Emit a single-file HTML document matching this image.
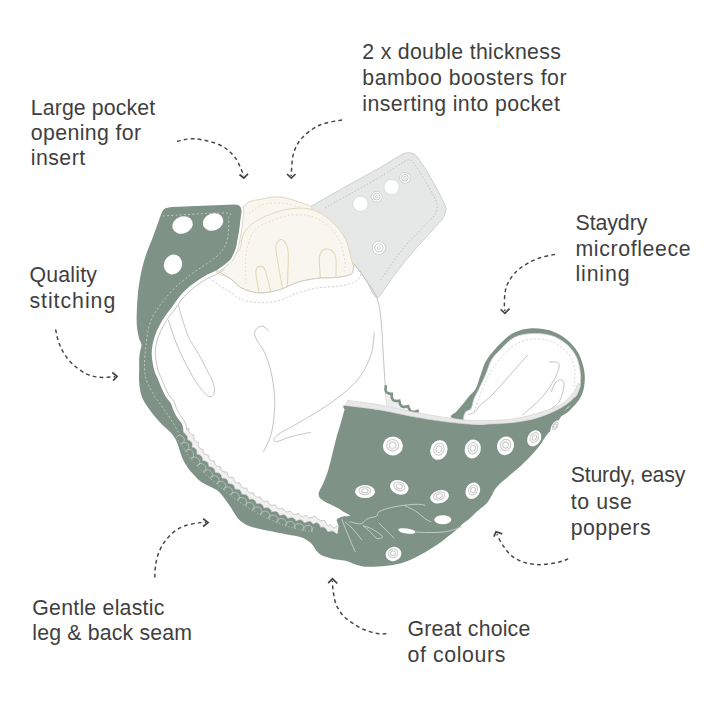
<!DOCTYPE html>
<html><head><meta charset="utf-8"><style>
html,body{margin:0;padding:0;background:#fff;width:720px;height:720px;overflow:hidden}
svg{position:absolute;left:0;top:0;display:block}
text{font-family:"Liberation Sans",sans-serif;font-size:21.3px;fill:#3f3f3f}
</style></head><body>
<svg width="720" height="720" viewBox="0 0 720 720">
<path d="M290.0,221.5 C295.0,213.3 368.9,174.2 380.0,167.6 C391.1,160.9 398.4,156.5 401.0,155.0 C403.6,153.5 404.6,153.2 405.5,153.0 C406.4,152.8 408.7,152.5 409.5,152.6 C410.3,152.7 412.8,153.3 413.5,153.6 C414.2,153.9 416.1,155.5 416.6,156.0 C417.2,156.5 418.5,158.3 419.0,159.0 C419.5,159.7 420.2,161.0 421.2,162.5 C422.2,164.0 426.9,171.3 428.6,174.2 C430.3,177.1 436.8,188.7 438.3,191.6 C439.9,194.5 443.3,201.6 444.1,203.3 C444.9,205.0 446.0,207.5 446.1,208.5 C446.2,209.5 445.5,211.9 445.1,213.0 C444.7,214.1 443.3,217.8 442.2,219.3 C441.1,220.8 436.1,226.1 434.4,228.0 C432.6,229.9 426.6,236.6 424.7,238.7 C422.8,240.8 416.9,247.2 415.0,249.4 C413.1,251.6 407.7,258.1 405.3,261.1 C402.9,264.1 393.8,275.8 391.0,279.5 C388.2,283.2 379.5,297.9 377.0,298.0 C374.5,298.1 368.3,283.4 366.0,280.0 C363.7,276.6 357.6,267.0 354.0,264.0 C350.4,261.0 336.4,254.2 330.0,250.0 C323.6,245.8 285.0,229.7 290.0,221.5Z" fill="#e6e8e7" stroke="#cdd0ce" stroke-width="1"/>
<path d="M325.0,208.0 C330.5,204.9 371.9,181.8 380.0,177.0 C388.1,172.2 403.0,162.1 406.2,160.5 C409.4,158.9 410.9,160.3 412.0,161.0 C413.1,161.7 415.7,165.5 417.0,167.4 C418.3,169.3 423.1,177.4 424.7,180.0 C426.2,182.6 431.2,191.2 432.5,193.6 C433.8,196.0 437.0,202.2 437.3,204.3 C437.6,206.4 436.3,212.7 435.4,214.4 C434.5,216.1 430.2,219.4 428.6,221.2 C427.0,222.9 420.8,229.9 418.9,231.9 C417.0,233.9 411.4,239.1 409.2,241.6 C407.0,244.1 399.4,253.3 396.5,257.2 C393.6,261.1 381.6,278.6 380.0,281.0" fill="none" stroke="#b9bdbb" stroke-width="0.9" stroke-dasharray="1.6 1.8"/>
<circle cx="360.4" cy="203.8" r="7.6" fill="#fff" stroke="#cdd0ce" stroke-width="0.6"/>
<circle cx="391.6" cy="187.1" r="7.6" fill="#fff" stroke="#cdd0ce" stroke-width="0.6"/>
<circle cx="376.7" cy="196.7" r="5.4" fill="#fff" stroke="#c6c9c7" stroke-width="0.8"/>
<circle cx="376.7" cy="196.7" r="3.3" fill="none" stroke="#b9bcba" stroke-width="0.8"/>
<circle cx="376.7" cy="196.7" r="1.4" fill="#fff" stroke="#b9bcba" stroke-width="0.6"/>
<circle cx="404.9" cy="177.8" r="5.4" fill="#fff" stroke="#c6c9c7" stroke-width="0.8"/>
<circle cx="404.9" cy="177.8" r="3.3" fill="none" stroke="#b9bcba" stroke-width="0.8"/>
<circle cx="404.9" cy="177.8" r="1.4" fill="#fff" stroke="#b9bcba" stroke-width="0.6"/>
<circle cx="378.9" cy="247.8" r="6.6" fill="#fff" stroke="#c6c9c7" stroke-width="0.8"/>
<circle cx="378.9" cy="247.8" r="4.1" fill="none" stroke="#b9bcba" stroke-width="0.8"/>
<circle cx="378.9" cy="247.8" r="1.6" fill="#fff" stroke="#b9bcba" stroke-width="0.6"/>
<path d="M236.0,235.0 C235.0,229.3 239.7,212.0 244.0,206.0 C248.3,200.0 256.0,200.5 262.0,199.0 C268.0,197.5 273.8,196.5 280.0,197.0 C286.2,197.5 293.7,200.2 299.0,202.0 C304.3,203.8 311.8,205.8 312.0,208.0 C312.2,210.2 310.3,209.7 300.0,215.0 C289.7,220.3 260.7,236.7 250.0,240.0 C239.3,243.3 237.0,240.7 236.0,235.0Z" fill="#f9f6f0" stroke="#e3d8b8" stroke-width="1"/>
<path d="M249.0,214.0 C251.2,212.5 256.8,206.8 262.0,205.0 C267.2,203.2 273.7,202.7 280.0,203.0 C286.3,203.3 296.7,206.3 300.0,207.0" fill="none" stroke="#e3d8b8" stroke-width="0.8" stroke-dasharray="2 2"/>
<path d="M216.0,270.0 C214.7,274.4 225.7,275.3 230.0,278.3 C234.3,281.3 236.8,285.6 241.7,288.0 C246.6,290.4 253.0,292.6 259.2,292.9 C265.4,293.2 272.1,291.8 278.6,290.0 C285.1,288.2 291.5,284.1 298.0,282.2 C304.5,280.2 311.0,279.1 317.5,278.3 C324.0,277.5 331.5,278.0 337.0,277.4 C342.5,276.8 347.9,275.9 350.6,274.4 C353.4,272.9 353.4,271.3 353.5,268.6 C353.6,265.9 352.4,263.1 351.0,258.0 C349.6,252.9 348.5,244.3 345.0,238.0 C341.5,231.7 335.8,224.8 330.0,220.0 C324.2,215.2 317.7,210.7 310.0,209.0 C302.3,207.3 292.7,208.2 284.0,210.0 C275.3,211.8 264.7,216.2 258.0,220.0 C251.3,223.8 247.3,227.7 244.0,233.0 C240.7,238.3 242.7,245.8 238.0,252.0 C233.3,258.2 217.3,265.6 216.0,270.0Z" fill="#f9f6f0" stroke="#e3d8b8" stroke-width="1"/>
<path d="M246.0,284.0 C246.0,279.2 245.0,263.3 246.0,255.0 C247.0,246.7 249.3,239.0 252.0,234.0 C254.7,229.0 256.3,228.0 262.0,225.0 C267.7,222.0 278.0,217.5 286.0,216.0 C294.0,214.5 303.0,214.3 310.0,216.0 C317.0,217.7 323.0,221.7 328.0,226.0 C333.0,230.3 337.2,236.0 340.0,242.0 C342.8,248.0 344.3,257.0 345.0,262.0 C345.7,267.0 344.2,270.3 344.0,272.0" fill="none" stroke="#e3d8b8" stroke-width="0.8" stroke-dasharray="2 2"/>
<path d="M282.5,289.0 C281.5,283.3 277.8,262.3 276.7,255.0 C275.6,247.7 275.3,247.6 276.0,245.0 C276.7,242.4 279.2,239.5 281.0,239.5 C282.8,239.5 285.3,242.4 286.5,245.0 C287.7,247.6 288.2,248.0 288.3,255.0 C288.4,262.0 287.5,281.7 287.4,287.0" fill="none" stroke="#e3d8b8" stroke-width="1.1"/>
<path d="M259.0,292.0 C258.5,289.2 256.4,278.9 256.0,275.0 C255.6,271.1 255.7,269.9 256.5,268.5 C257.3,267.1 259.6,266.2 261.0,266.5 C262.4,266.8 263.3,265.8 265.0,270.0 C266.7,274.2 270.0,288.3 271.0,292.0" fill="none" stroke="#e3d8b8" stroke-width="1.1"/>
<path d="M320.4,278.3 C320.2,274.9 319.1,262.6 319.4,258.0 C319.7,253.4 320.6,252.5 322.0,251.0 C323.4,249.5 326.0,248.7 328.0,249.0 C330.0,249.3 332.7,251.2 334.0,253.0 C335.3,254.8 335.7,256.1 336.0,260.0 C336.3,263.9 336.0,273.7 336.0,276.4" fill="none" stroke="#e3d8b8" stroke-width="1.1"/>
<path d="M216.0,270.0 C218.3,271.4 225.7,275.3 230.0,278.3 C234.3,281.3 236.8,285.6 241.7,288.0 C246.6,290.4 253.0,292.6 259.2,292.9 C265.4,293.2 272.1,291.8 278.6,290.0 C285.1,288.2 291.5,284.1 298.0,282.2 C304.5,280.2 311.0,279.1 317.5,278.3 C324.0,277.5 331.5,278.0 337.0,277.4 C342.5,276.8 347.9,275.9 350.6,274.4 C353.4,272.9 352.9,270.3 353.5,268.6 C354.1,266.9 353.9,264.8 354.0,264.0" fill="none" stroke="#cfcfc8" stroke-width="1"/>
<path d="M209.0,278.0 C211.2,279.5 218.5,284.7 222.0,287.0 C225.5,289.3 226.7,289.9 230.0,292.0 C233.3,294.1 236.8,297.9 241.7,299.7 C246.6,301.5 253.0,302.4 259.2,302.6 C265.4,302.8 272.1,302.3 278.6,300.7 C285.1,299.1 291.5,295.0 298.0,292.9 C304.5,290.8 310.7,289.1 317.5,288.0 C324.3,286.9 332.8,287.1 338.9,286.1 C345.0,285.1 350.8,283.8 354.4,282.2 C358.0,280.6 359.3,278.3 360.3,276.4 C361.3,274.5 360.3,271.6 360.3,270.6" fill="none" stroke="#c8c8c8" stroke-width="0.9" stroke-dasharray="2 2"/>
<path d="M354.0,264.0 C356.0,266.7 362.2,274.3 366.0,280.0 C369.8,285.7 374.5,291.3 377.0,298.0 C379.5,304.7 380.0,311.3 381.0,320.0 C382.0,328.7 382.4,340.8 383.0,350.0 C383.6,359.2 383.9,365.8 384.5,375.0 C385.1,384.2 386.3,400.0 386.7,405.0" fill="none" stroke="#c4c4c4" stroke-width="1"/>
<path d="M168.3,320.0 C169.8,324.2 173.7,337.0 177.0,345.0 C180.3,353.0 184.5,361.3 188.0,368.0 C191.5,374.7 195.2,380.8 198.0,385.0 C200.8,389.2 203.0,391.4 205.0,393.3 C207.0,395.2 208.5,396.7 210.0,396.7 C211.5,396.7 213.6,395.5 214.2,393.3 C214.8,391.1 214.5,387.2 213.3,383.3 C212.1,379.4 208.9,373.9 207.0,370.0 C205.1,366.1 203.7,363.7 201.7,360.0 C199.7,356.3 197.2,351.9 195.0,348.0 C192.8,344.1 190.5,341.7 188.3,336.7 C186.1,331.7 183.7,323.3 182.0,318.0 C180.3,312.7 178.9,307.2 178.3,305.0" fill="none" stroke="#c4c4c4" stroke-width="1"/>
<path d="M268.9,331.1 C267.8,330.2 264.4,326.2 262.2,326.0 C260.0,325.8 256.7,328.0 255.6,330.0 C254.5,332.0 254.1,334.1 255.6,337.8 C257.1,341.5 261.8,346.5 264.4,352.2 C267.0,357.9 269.4,365.2 271.1,372.2 C272.8,379.2 273.8,387.7 274.4,394.4 C274.9,401.1 274.9,405.5 274.4,412.2 C273.8,418.9 273.0,427.7 271.1,434.4 C269.2,441.1 264.6,449.2 263.3,452.2" fill="none" stroke="#c4c4c4" stroke-width="1"/>
<path d="M374.4,332.2 C373.8,335.9 373.5,347.0 371.1,354.4 C368.7,361.8 364.8,370.0 360.0,376.7 C355.2,383.4 348.9,388.8 342.2,394.4 C335.5,399.9 327.4,405.2 320.0,410.0 C312.6,414.8 304.5,419.4 297.8,423.3 C291.1,427.2 283.9,430.7 280.0,433.3 C276.1,435.9 274.9,437.5 274.4,438.9 C273.8,440.3 273.9,442.0 276.7,441.6 C279.5,441.2 285.4,438.3 291.1,436.7 C296.8,435.1 307.8,432.9 311.1,432.2" fill="none" stroke="#c4c4c4" stroke-width="1"/>
<path d="M453.6,418.5 C446.4,416.1 455.0,413.8 456.5,411.5 C458.0,409.2 460.3,407.3 462.4,404.7 C464.5,402.1 466.9,398.8 469.2,396.0 C471.5,393.2 474.1,391.8 476.0,388.2 C477.9,384.6 479.0,379.3 480.8,374.6 C482.6,369.9 483.3,365.2 486.6,360.0 C489.9,354.8 496.0,347.9 500.6,343.3 C505.2,338.7 509.0,335.1 514.2,332.6 C519.4,330.1 525.6,328.5 531.7,328.2 C537.9,327.9 545.3,328.8 551.1,330.7 C556.9,332.6 562.2,335.7 566.7,339.4 C571.2,343.1 575.4,347.8 578.3,353.0 C581.2,358.2 583.2,365.1 584.2,370.6 C585.2,376.1 584.9,381.6 584.2,386.1 C583.6,390.6 582.2,394.2 580.3,397.8 C578.3,401.4 575.4,404.6 572.5,407.5 C569.6,410.4 568.2,412.6 562.8,415.3 C557.4,418.1 550.5,422.2 540.0,424.0 C529.5,425.8 514.4,426.9 500.0,426.0 C485.6,425.1 460.9,420.9 453.6,418.5Z" fill="#7e9286"/>
<path d="M464.8,421.0 C462.4,419.2 464.2,414.6 465.3,412.5 C466.4,410.4 469.7,410.9 471.1,408.6 C472.6,406.3 472.7,402.1 474.0,398.9 C475.3,395.7 476.9,393.2 478.9,389.2 C480.8,385.1 483.6,379.5 485.7,374.6 C487.8,369.7 488.9,364.4 491.5,360.0 C494.1,355.6 497.7,352.2 501.5,348.5 C505.3,344.8 509.2,340.0 514.2,337.5 C519.2,335.0 525.6,333.9 531.7,333.6 C537.9,333.3 545.3,333.8 551.1,335.6 C556.9,337.4 562.5,340.7 566.7,344.3 C570.9,347.9 574.1,352.3 576.4,357.0 C578.7,361.7 579.7,367.6 580.3,372.5 C580.9,377.4 580.8,381.9 579.9,386.1 C579.0,390.4 577.8,393.9 575.0,398.0 C572.2,402.1 570.5,407.3 563.0,411.0 C555.5,414.7 540.5,418.0 530.0,420.0 C519.5,422.0 508.3,422.5 500.0,423.0 C491.7,423.5 485.9,423.3 480.0,423.0 C474.1,422.7 467.2,422.8 464.8,421.0Z" fill="#fff" stroke="#d6d6d6" stroke-width="0.8"/>
<path d="M474.0,412.0 C474.8,409.7 477.0,403.2 479.0,398.0 C481.0,392.8 483.7,386.0 486.0,381.0 C488.3,376.0 490.0,372.5 493.0,368.0 C496.0,363.5 500.2,358.0 504.0,354.0 C507.8,350.0 511.3,346.5 516.0,344.0 C520.7,341.5 526.3,339.5 532.0,339.0 C537.7,338.5 544.7,339.3 550.0,341.0 C555.3,342.7 560.3,345.8 564.0,349.0 C567.7,352.2 570.2,356.0 572.0,360.0 C573.8,364.0 574.7,368.5 575.0,373.0 C575.3,377.5 574.2,384.7 574.0,387.0" fill="none" stroke="#cacaca" stroke-width="0.8" stroke-dasharray="2 2"/>
<path d="M527.8,355.0 C524.8,358.3 516.0,368.3 510.0,375.0 C504.0,381.7 496.9,390.1 492.0,395.0 C487.1,399.9 483.8,401.8 480.8,404.7 C477.8,407.6 476.1,410.9 474.0,412.5 C471.9,414.1 469.2,414.1 468.2,414.4" fill="none" stroke="#c4c4c4" stroke-width="1"/>
<path d="M549.0,362.0 C550.6,362.3 557.9,361.0 558.9,363.7 C559.9,366.4 557.9,372.6 555.0,378.3 C552.1,384.0 546.9,391.6 541.4,397.8 C535.9,404.0 525.2,412.4 522.0,415.3" fill="none" stroke="#c4c4c4" stroke-width="1"/>
<path d="M551.0,392.0 C551.8,390.3 554.2,384.0 556.0,382.0 C557.8,380.0 560.7,379.3 562.0,380.0 C563.3,380.7 564.5,382.3 564.0,386.0 C563.5,389.7 561.8,397.8 559.0,402.0 C556.2,406.2 549.0,409.8 547.0,411.4" fill="none" stroke="#c4c4c4" stroke-width="1"/>
<path d="M386.0,385.3 L385.9,386.0 L385.8,386.7 L385.7,387.4 L385.6,388.0 L385.5,388.6 L385.5,389.2 L385.6,389.8 L385.6,390.3 L385.8,390.8 L386.0,391.3 L386.3,391.7 L386.6,392.1 L387.0,392.5 L387.5,392.8 L388.0,393.0 L388.6,393.3 L389.2,393.5 L389.8,393.6 L390.5,393.8 L391.1,393.9 L391.8,393.9 L391.7,394.6 L391.7,395.3 L391.7,396.0 L391.8,396.6 L391.8,397.2 L392.0,397.8 L392.1,398.4 L392.4,398.9 L392.7,399.4 L393.0,399.8 L393.4,400.1 L393.8,400.4 L394.3,400.6 L394.8,400.8 L395.4,400.9 L396.0,401.0 L396.6,401.0 L397.3,401.0 L398.0,400.9 L398.6,400.9 L399.3,400.8 L399.4,401.4 L399.6,402.1 L399.7,402.7 L399.9,403.4 L400.1,404.0 L400.4,404.5 L400.7,405.0 L401.0,405.5 L401.4,405.9 L401.8,406.2 L402.2,406.5 L402.7,406.7 L403.2,406.8 L403.8,406.9 L404.3,406.9 L404.9,406.8 L405.5,406.8 L406.2,406.6 L406.8,406.5 L407.5,406.3 L408.2,406.1 L408.4,406.8 L408.6,407.4 L408.8,408.0 L409.1,408.6 L409.4,409.2 L409.7,409.7 L410.0,410.2 L410.3,410.6 L410.7,411.0 L411.1,411.2 L411.6,411.5 L412.1,411.6 L412.6,411.7 L413.1,411.8 L413.7,411.8 L414.3,411.7 L414.9,411.6 L415.5,411.4 L416.2,411.3 L416.8,411.1 L417.5,410.9 L417.7,411.5 L418.0,412.2 L418.0,412.4 L418,413 L386.5,406 Z" fill="#ededed"/>
<path d="M386.0,385.3 L385.9,386.0 L385.8,386.7 L385.7,387.4 L385.6,388.0 L385.5,388.6 L385.5,389.2 L385.6,389.8 L385.6,390.3 L385.8,390.8 L386.0,391.3 L386.3,391.7 L386.6,392.1 L387.0,392.5 L387.5,392.8 L388.0,393.0 L388.6,393.3 L389.2,393.5 L389.8,393.6 L390.5,393.8 L391.1,393.9 L391.8,393.9 L391.7,394.6 L391.7,395.3 L391.7,396.0 L391.8,396.6 L391.8,397.2 L392.0,397.8 L392.1,398.4 L392.4,398.9 L392.7,399.4 L393.0,399.8 L393.4,400.1 L393.8,400.4 L394.3,400.6 L394.8,400.8 L395.4,400.9 L396.0,401.0 L396.6,401.0 L397.3,401.0 L398.0,400.9 L398.6,400.9 L399.3,400.8 L399.4,401.4 L399.6,402.1 L399.7,402.7 L399.9,403.4 L400.1,404.0 L400.4,404.5 L400.7,405.0 L401.0,405.5 L401.4,405.9 L401.8,406.2 L402.2,406.5 L402.7,406.7 L403.2,406.8 L403.8,406.9 L404.3,406.9 L404.9,406.8 L405.5,406.8 L406.2,406.6 L406.8,406.5 L407.5,406.3 L408.2,406.1 L408.4,406.8 L408.6,407.4 L408.8,408.0 L409.1,408.6 L409.4,409.2 L409.7,409.7 L410.0,410.2 L410.3,410.6 L410.7,411.0 L411.1,411.2 L411.6,411.5 L412.1,411.6 L412.6,411.7 L413.1,411.8 L413.7,411.8 L414.3,411.7 L414.9,411.6 L415.5,411.4 L416.2,411.3 L416.8,411.1 L417.5,410.9 L417.7,411.5 L418.0,412.2 L418.0,412.4" fill="none" stroke="#7e9286" stroke-width="2.6"/>
<path d="M234.0,204.6 C234.7,204.7 237.2,204.8 238.3,205.2 C239.4,205.6 240.1,206.2 240.6,207.3 C241.1,208.4 241.4,209.6 241.4,211.7 C241.4,213.8 240.8,216.9 240.4,220.0 C240.0,223.1 239.7,226.8 239.2,230.0 C238.7,233.2 238.1,236.1 237.5,239.2 C236.9,242.2 236.6,245.5 235.8,248.3 C235.0,251.1 233.7,253.9 232.5,256.0 C231.3,258.1 231.3,258.9 228.9,261.1 C226.5,263.3 222.0,266.8 217.8,269.4 C213.6,271.9 208.5,273.6 203.9,276.4 C199.3,279.2 194.0,282.8 190.0,286.1 C186.0,289.4 183.0,292.5 180.0,296.0 C177.0,299.5 174.9,303.0 172.0,307.0 C169.1,311.0 165.4,315.1 162.5,320.0 C159.6,324.9 156.4,331.1 154.6,336.7 C152.8,342.2 151.8,347.8 151.7,353.3 C151.6,358.9 153.2,365.8 154.2,370.0 C155.2,374.2 156.2,375.2 157.5,378.3 C158.8,381.4 160.3,385.2 161.7,388.3 C163.1,391.4 164.3,394.2 165.8,396.7 C167.3,399.2 169.6,401.1 170.8,403.3 C172.1,405.5 172.3,407.8 173.3,410.0 C174.3,412.2 175.7,415.0 176.7,416.7 C177.7,418.4 178.2,418.5 179.2,420.0 C180.2,421.5 181.9,423.6 182.6,425.6 C183.3,427.6 183.3,430.9 183.5,432.0 L183.5,432.0 L183.7,432.4 L184.0,432.9 L184.3,433.3 L184.7,433.6 L185.0,434.0 L185.4,434.3 L185.8,434.7 L186.1,435.0 L186.5,435.4 L186.7,435.8 L187.0,436.3 L187.2,436.7 L187.3,437.3 L187.4,437.8 L187.3,438.5 L187.3,439.1 L187.2,439.8 L187.7,440.0 L188.3,440.2 L188.9,440.4 L189.4,440.7 L190.0,440.9 L190.4,441.2 L190.8,441.5 L191.2,441.9 L191.5,442.3 L191.7,442.8 L191.9,443.3 L192.0,443.8 L192.0,444.4 L192.0,444.9 L192.0,445.6 L191.9,446.2 L191.8,446.8 L192.2,447.2 L192.8,447.4 L193.4,447.6 L194.0,447.9 L194.5,448.1 L195.0,448.4 L195.4,448.7 L195.7,449.1 L196.0,449.5 L196.3,449.9 L196.5,450.4 L196.6,450.9 L196.7,451.5 L196.7,452.0 L196.7,452.7 L196.7,453.3 L196.7,454.0 L196.9,454.4 L197.6,454.6 L198.2,454.7 L198.8,454.9 L199.4,455.0 L199.9,455.2 L200.4,455.5 L200.8,455.8 L201.2,456.1 L201.5,456.5 L201.8,456.9 L202.0,457.4 L202.2,457.9 L202.3,458.4 L202.4,459.0 L202.5,459.7 L202.5,460.3 L202.7,460.8 L203.4,460.9 L204.0,461.0 L204.6,461.1 L205.2,461.2 L205.7,461.4 L206.2,461.6 L206.7,461.9 L207.1,462.2 L207.4,462.5 L207.7,462.9 L208.0,463.4 L208.2,463.9 L208.3,464.5 L208.4,465.1 L208.5,465.7 L208.6,466.3 L208.7,467.0 L209.3,467.0 L210.0,467.1 L210.6,467.1 L211.2,467.2 L211.8,467.4 L212.3,467.5 L212.8,467.8 L213.2,468.0 L213.5,468.4 L213.9,468.8 L214.1,469.2 L214.4,469.7 L214.6,470.2 L214.7,470.8 L214.8,471.4 L215.0,472.0 L215.1,472.7 L215.6,472.8 L216.3,472.9 L216.9,472.9 L217.5,472.9 L218.1,473.0 L218.6,473.2 L219.1,473.4 L219.6,473.6 L220.0,473.9 L220.3,474.3 L220.6,474.7 L220.9,475.1 L221.1,475.7 L221.3,476.2 L221.4,476.8 L221.5,477.5 L221.7,478.1 L222.1,478.3 L222.7,478.4 L223.4,478.4 L224.0,478.5 L224.6,478.5 L225.1,478.7 L225.6,478.9 L226.0,479.1 L226.5,479.4 L226.8,479.8 L227.1,480.2 L227.4,480.6 L227.6,481.2 L227.8,481.7 L227.9,482.3 L228.1,482.9 L228.2,483.6 L228.5,484.0 L229.2,484.0 L229.8,484.0 L230.4,484.0 L231.0,484.1 L231.5,484.2 L232.1,484.4 L232.5,484.6 L232.9,484.9 L233.3,485.2 L233.6,485.6 L233.9,486.0 L234.2,486.5 L234.4,487.1 L234.5,487.7 L234.7,488.3 L234.8,488.9 L235.1,489.4 L235.7,489.4 L236.4,489.4 L237.0,489.4 L237.6,489.5 L238.1,489.5 L238.7,489.7 L239.2,489.9 L239.6,490.1 L240.0,490.4 L240.3,490.8 L240.6,491.2 L240.9,491.7 L241.1,492.2 L241.3,492.8 L241.5,493.4 L241.7,494.0 L241.8,494.7 L242.5,494.6 L243.1,494.6 L243.8,494.6 L244.4,494.6 L244.9,494.6 L245.5,494.7 L246.0,494.9 L246.4,495.1 L246.8,495.4 L247.2,495.7 L247.6,496.1 L247.9,496.6 L248.1,497.1 L248.4,497.6 L248.6,498.2 L248.8,498.8 L249.0,499.4 L249.6,499.5 L250.2,499.4 L250.8,499.3 L251.4,499.3 L252.0,499.3 L252.6,499.4 L253.1,499.5 L253.6,499.6 L254.0,499.9 L254.4,500.2 L254.8,500.6 L255.1,501.0 L255.4,501.5 L255.7,502.0 L255.9,502.6 L256.1,503.2 L256.3,503.8 L256.8,504.0 L257.5,503.9 L258.1,503.8 L258.7,503.7 L259.3,503.7 L259.8,503.8 L260.4,503.8 L260.9,504.0 L261.3,504.2 L261.7,504.5 L262.1,504.8 L262.5,505.2 L262.8,505.7 L263.1,506.2 L263.3,506.7 L263.6,507.3 L263.8,507.9 L264.2,508.2 L264.9,508.1 L265.5,508.0 L266.1,507.9 L266.7,507.8 L267.3,507.8 L267.8,507.9 L268.3,508.0 L268.8,508.2 L269.2,508.4 L269.6,508.7 L270.0,509.1 L270.3,509.5 L270.7,510.0 L271.0,510.6 L271.2,511.1 L271.5,511.7 L271.9,512.1 L272.5,512.0 L273.1,511.8 L273.7,511.7 L274.3,511.6 L274.9,511.6 L275.4,511.6 L275.9,511.7 L276.4,511.8 L276.9,512.0 L277.3,512.3 L277.7,512.6 L278.1,513.0 L278.4,513.5 L278.7,514.0 L279.1,514.6 L279.4,515.1 L279.7,515.7 L280.3,515.5 L280.9,515.3 L281.5,515.2 L282.1,515.0 L282.7,515.0 L283.2,514.9 L283.7,515.0 L284.2,515.1 L284.7,515.2 L285.1,515.5 L285.6,515.8 L286.0,516.1 L286.3,516.6 L286.7,517.1 L287.1,517.6 L287.4,518.1 L287.8,518.7 L288.3,518.6 L288.9,518.3 L289.5,518.1 L290.1,518.0 L290.7,517.8 L291.2,517.7 L291.7,517.7 L292.2,517.8 L292.7,517.9 L293.2,518.1 L293.6,518.3 L294.1,518.7 L294.5,519.0 L294.9,519.5 L295.3,520.0 L295.6,520.5 L296.0,521.0 L296.5,521.1 L297.1,520.8 L297.7,520.5 L298.3,520.3 L298.8,520.2 L299.4,520.0 L299.9,520.0 L300.4,520.0 L300.9,520.1 L301.4,520.2 L301.8,520.4 L302.3,520.7 L302.7,521.1 L303.1,521.5 L303.6,521.9 L304.0,522.4 L304.4,522.9 L304.9,523.1 L305.4,522.8 L306.0,522.5 L306.6,522.2 L307.1,522.0 L307.6,521.8 L308.1,521.7 L308.6,521.6 L309.1,521.5 L309.6,521.5 L310.1,521.6 L310.6,521.8 L311.1,522.1 L311.6,522.5 L312.0,522.9 L312.5,523.4 L312.9,523.9 L313.3,524.2 L313.9,523.9 L314.4,523.6 L315.0,523.3 L315.5,523.1 L316.1,523.0 L316.6,523.0 L317.2,523.0 L317.7,523.2 L318.2,523.4 L318.6,523.7 L318.9,524.1 L319.3,524.6 L319.5,525.1 L319.8,525.6 L320.0,526.2 L320.2,526.8 L320.4,527.4 L321.0,527.4 L321.7,527.3 L322.3,527.2 L322.9,527.3 L323.5,527.3 L324.0,527.5 L324.5,527.7 L324.9,528.0 L325.3,528.3 L325.6,528.6 L325.9,529.0 L326.2,529.4 L326.5,529.9 L326.8,530.4 L327.1,531.0 L327.5,531.5 L327.8,532.1 L328.4,532.1 L329.0,531.9 L329.6,531.6 L330.2,531.5 L330.8,531.3 L331.3,531.2 L331.8,531.2 L332.3,531.3 L332.8,531.4 L333.3,531.5 L333.7,531.8 L334.2,532.0 L334.6,532.4 L335.1,532.7 L335.6,533.1 L336.1,533.6 L336.6,534.0 L337.0,533.9 L337.4,533.6  L337.5,532.6 C337.6,531.7 338.6,527.7 338.5,526.0 C338.4,524.3 336.2,520.7 336.7,519.5 C337.2,518.3 340.4,517.2 342.2,516.7 C344.0,516.2 349.9,516.3 350.0,515.6 C350.1,514.9 344.6,512.5 343.0,511.5 C341.4,510.5 340.7,509.6 338.3,508.3 C335.9,507.0 327.5,503.1 325.0,501.7 C322.5,500.3 320.3,498.7 319.5,497.5 C318.7,496.3 318.3,494.4 318.8,492.5 C319.3,490.6 322.0,486.3 323.3,483.3 C324.6,480.3 327.1,474.0 328.3,470.0 C329.5,466.0 331.4,457.7 332.5,453.3 C333.6,448.9 335.5,441.1 336.7,436.7 C337.9,432.3 340.7,423.6 341.7,420.0 C342.7,416.4 343.8,411.9 344.5,410.0 C345.2,408.1 339.6,405.1 347.0,405.5 C354.4,405.9 385.4,410.8 400.0,413.0 C414.6,415.2 446.0,420.4 456.7,422.0 C467.4,423.6 472.5,424.6 480.0,424.7 C487.5,424.8 505.5,423.5 513.3,422.5 C521.1,421.5 532.1,419.4 538.3,417.5 C544.5,415.6 555.3,410.9 560.0,408.3 C564.7,405.7 570.6,400.2 573.3,398.3 C576.0,396.4 579.1,394.6 580.0,394.0  L580.0,394.0 C578.9,395.6 575.6,400.8 573.3,403.3 C571.0,405.8 568.2,406.5 566.0,409.0 C563.8,411.5 562.1,415.1 560.0,418.3 C557.9,421.5 555.5,425.5 553.3,428.3 C551.1,431.1 548.9,432.2 546.7,435.0 C544.5,437.8 542.5,441.7 540.0,445.0 C537.5,448.3 534.8,451.7 531.7,455.0 C528.7,458.3 525.3,461.7 521.7,465.0 C518.1,468.3 514.1,471.4 510.0,475.0 C505.9,478.6 500.0,483.4 497.0,486.7 C494.0,490.0 493.7,492.2 492.0,495.0 C490.3,497.8 489.2,500.5 486.7,503.3 C484.1,506.1 479.5,509.2 476.7,511.7 C473.9,514.2 472.2,516.4 470.0,518.3 C467.8,520.2 465.0,521.9 463.3,523.3 C461.6,524.7 462.2,524.8 460.0,526.7 C457.8,528.7 453.9,532.0 450.0,535.0 C446.1,538.0 441.7,541.7 436.7,545.0 C431.7,548.3 425.6,552.1 420.0,555.0 C414.4,557.9 408.9,560.7 403.3,562.5 C397.8,564.3 392.8,565.1 386.7,565.8 C380.6,566.5 371.9,566.9 366.7,566.7 C361.5,566.5 359.3,565.4 355.6,564.4 C351.9,563.4 348.1,561.5 344.4,560.6 C340.7,559.7 337.0,559.7 333.3,558.9 C329.6,558.1 325.0,556.9 322.2,555.6 C319.4,554.3 318.4,553.0 316.7,551.1 C315.0,549.2 313.9,546.2 312.2,544.4 C310.5,542.5 308.7,541.2 306.7,540.0 C304.7,538.8 304.3,538.1 300.0,537.0 C295.7,535.9 287.0,534.5 281.1,533.3 C275.2,532.1 269.4,531.1 264.4,530.0 C259.4,528.9 254.8,528.0 251.1,526.7 C247.4,525.4 244.6,523.9 242.2,522.2 C239.8,520.5 238.5,519.1 236.7,516.7 C234.8,514.3 232.9,510.6 231.1,507.8 C229.2,505.0 227.3,502.3 225.6,500.0 C223.9,497.7 222.5,495.7 221.0,494.0 C219.5,492.3 218.8,491.4 216.7,490.0 C214.6,488.6 211.1,487.3 208.3,485.8 C205.5,484.3 202.6,483.0 200.0,481.0 C197.4,479.0 195.1,476.3 193.0,474.0 C190.9,471.7 189.1,469.5 187.5,467.2 C185.9,464.9 184.5,462.6 183.3,460.3 C182.2,458.0 181.4,455.6 180.6,453.3 C179.8,451.0 179.3,448.7 178.5,446.4 C177.7,444.1 176.9,441.5 175.7,439.4 C174.5,437.2 172.9,435.2 171.5,433.5 C170.1,431.8 168.8,430.7 167.0,429.0 C165.2,427.3 163.0,425.6 161.0,423.5 C159.0,421.4 157.0,419.1 155.0,416.7 C153.0,414.3 151.0,411.7 149.2,409.2 C147.4,406.7 145.6,404.3 144.2,401.7 C142.8,399.1 141.6,396.5 140.8,393.3 C140.0,390.1 139.5,386.4 139.2,382.5 C138.9,378.6 139.1,374.6 139.2,370.0 C139.2,365.4 139.1,359.2 139.5,355.0 C139.9,350.8 141.6,347.8 141.5,345.0 C141.4,342.2 139.8,341.7 139.0,338.0 C138.2,334.3 136.9,329.8 136.7,323.0 C136.5,316.2 137.1,304.3 137.6,297.2 C138.1,290.1 138.9,285.7 139.7,280.6 C140.5,275.5 141.3,271.3 142.5,266.7 C143.7,262.1 145.1,257.4 146.7,252.8 C148.3,248.2 150.3,243.8 152.2,238.9 C154.0,234.0 156.2,228.0 157.8,223.6 C159.4,219.2 160.7,215.0 161.9,212.5 C163.1,210.0 163.4,209.4 165.0,208.5 C166.6,207.6 170.6,207.2 171.7,206.9Z" fill="#7e9286"/>
<path d="M183.5,432.0 L183.7,432.4 L184.0,432.9 L184.3,433.3 L184.7,433.6 L185.0,434.0 L185.4,434.3 L185.8,434.7 L186.1,435.0 L186.5,435.4 L186.7,435.8 L187.0,436.3 L187.2,436.7 L187.3,437.3 L187.4,437.8 L187.3,438.5 L187.3,439.1 L187.2,439.8 L187.7,440.0 L188.3,440.2 L188.9,440.4 L189.4,440.7 L190.0,440.9 L190.4,441.2 L190.8,441.5 L191.2,441.9 L191.5,442.3 L191.7,442.8 L191.9,443.3 L192.0,443.8 L192.0,444.4 L192.0,444.9 L192.0,445.6 L191.9,446.2 L191.8,446.8 L192.2,447.2 L192.8,447.4 L193.4,447.6 L194.0,447.9 L194.5,448.1 L195.0,448.4 L195.4,448.7 L195.7,449.1 L196.0,449.5 L196.3,449.9 L196.5,450.4 L196.6,450.9 L196.7,451.5 L196.7,452.0 L196.7,452.7 L196.7,453.3 L196.7,454.0 L196.9,454.4 L197.6,454.6 L198.2,454.7 L198.8,454.9 L199.4,455.0 L199.9,455.2 L200.4,455.5 L200.8,455.8 L201.2,456.1 L201.5,456.5 L201.8,456.9 L202.0,457.4 L202.2,457.9 L202.3,458.4 L202.4,459.0 L202.5,459.7 L202.5,460.3 L202.7,460.8 L203.4,460.9 L204.0,461.0 L204.6,461.1 L205.2,461.2 L205.7,461.4 L206.2,461.6 L206.7,461.9 L207.1,462.2 L207.4,462.5 L207.7,462.9 L208.0,463.4 L208.2,463.9 L208.3,464.5 L208.4,465.1 L208.5,465.7 L208.6,466.3 L208.7,467.0 L209.3,467.0 L210.0,467.1 L210.6,467.1 L211.2,467.2 L211.8,467.4 L212.3,467.5 L212.8,467.8 L213.2,468.0 L213.5,468.4 L213.9,468.8 L214.1,469.2 L214.4,469.7 L214.6,470.2 L214.7,470.8 L214.8,471.4 L215.0,472.0 L215.1,472.7 L215.6,472.8 L216.3,472.9 L216.9,472.9 L217.5,472.9 L218.1,473.0 L218.6,473.2 L219.1,473.4 L219.6,473.6 L220.0,473.9 L220.3,474.3 L220.6,474.7 L220.9,475.1 L221.1,475.7 L221.3,476.2 L221.4,476.8 L221.5,477.5 L221.7,478.1 L222.1,478.3 L222.7,478.4 L223.4,478.4 L224.0,478.5 L224.6,478.5 L225.1,478.7 L225.6,478.9 L226.0,479.1 L226.5,479.4 L226.8,479.8 L227.1,480.2 L227.4,480.6 L227.6,481.2 L227.8,481.7 L227.9,482.3 L228.1,482.9 L228.2,483.6 L228.5,484.0 L229.2,484.0 L229.8,484.0 L230.4,484.0 L231.0,484.1 L231.5,484.2 L232.1,484.4 L232.5,484.6 L232.9,484.9 L233.3,485.2 L233.6,485.6 L233.9,486.0 L234.2,486.5 L234.4,487.1 L234.5,487.7 L234.7,488.3 L234.8,488.9 L235.1,489.4 L235.7,489.4 L236.4,489.4 L237.0,489.4 L237.6,489.5 L238.1,489.5 L238.7,489.7 L239.2,489.9 L239.6,490.1 L240.0,490.4 L240.3,490.8 L240.6,491.2 L240.9,491.7 L241.1,492.2 L241.3,492.8 L241.5,493.4 L241.7,494.0 L241.8,494.7 L242.5,494.6 L243.1,494.6 L243.8,494.6 L244.4,494.6 L244.9,494.6 L245.5,494.7 L246.0,494.9 L246.4,495.1 L246.8,495.4 L247.2,495.7 L247.6,496.1 L247.9,496.6 L248.1,497.1 L248.4,497.6 L248.6,498.2 L248.8,498.8 L249.0,499.4 L249.6,499.5 L250.2,499.4 L250.8,499.3 L251.4,499.3 L252.0,499.3 L252.6,499.4 L253.1,499.5 L253.6,499.6 L254.0,499.9 L254.4,500.2 L254.8,500.6 L255.1,501.0 L255.4,501.5 L255.7,502.0 L255.9,502.6 L256.1,503.2 L256.3,503.8 L256.8,504.0 L257.5,503.9 L258.1,503.8 L258.7,503.7 L259.3,503.7 L259.8,503.8 L260.4,503.8 L260.9,504.0 L261.3,504.2 L261.7,504.5 L262.1,504.8 L262.5,505.2 L262.8,505.7 L263.1,506.2 L263.3,506.7 L263.6,507.3 L263.8,507.9 L264.2,508.2 L264.9,508.1 L265.5,508.0 L266.1,507.9 L266.7,507.8 L267.3,507.8 L267.8,507.9 L268.3,508.0 L268.8,508.2 L269.2,508.4 L269.6,508.7 L270.0,509.1 L270.3,509.5 L270.7,510.0 L271.0,510.6 L271.2,511.1 L271.5,511.7 L271.9,512.1 L272.5,512.0 L273.1,511.8 L273.7,511.7 L274.3,511.6 L274.9,511.6 L275.4,511.6 L275.9,511.7 L276.4,511.8 L276.9,512.0 L277.3,512.3 L277.7,512.6 L278.1,513.0 L278.4,513.5 L278.7,514.0 L279.1,514.6 L279.4,515.1 L279.7,515.7 L280.3,515.5 L280.9,515.3 L281.5,515.2 L282.1,515.0 L282.7,515.0 L283.2,514.9 L283.7,515.0 L284.2,515.1 L284.7,515.2 L285.1,515.5 L285.6,515.8 L286.0,516.1 L286.3,516.6 L286.7,517.1 L287.1,517.6 L287.4,518.1 L287.8,518.7 L288.3,518.6 L288.9,518.3 L289.5,518.1 L290.1,518.0 L290.7,517.8 L291.2,517.7 L291.7,517.7 L292.2,517.8 L292.7,517.9 L293.2,518.1 L293.6,518.3 L294.1,518.7 L294.5,519.0 L294.9,519.5 L295.3,520.0 L295.6,520.5 L296.0,521.0 L296.5,521.1 L297.1,520.8 L297.7,520.5 L298.3,520.3 L298.8,520.2 L299.4,520.0 L299.9,520.0 L300.4,520.0 L300.9,520.1 L301.4,520.2 L301.8,520.4 L302.3,520.7 L302.7,521.1 L303.1,521.5 L303.6,521.9 L304.0,522.4 L304.4,522.9 L304.9,523.1 L305.4,522.8 L306.0,522.5 L306.6,522.2 L307.1,522.0 L307.6,521.8 L308.1,521.7 L308.6,521.6 L309.1,521.5 L309.6,521.5 L310.1,521.6 L310.6,521.8 L311.1,522.1 L311.6,522.5 L312.0,522.9 L312.5,523.4 L312.9,523.9 L313.3,524.2 L313.9,523.9 L314.4,523.6 L315.0,523.3 L315.5,523.1 L316.1,523.0 L316.6,523.0 L317.2,523.0 L317.7,523.2 L318.2,523.4 L318.6,523.7 L318.9,524.1 L319.3,524.6 L319.5,525.1 L319.8,525.6 L320.0,526.2 L320.2,526.8 L320.4,527.4 L321.0,527.4 L321.7,527.3 L322.3,527.2 L322.9,527.3 L323.5,527.3 L324.0,527.5 L324.5,527.7 L324.9,528.0 L325.3,528.3 L325.6,528.6 L325.9,529.0 L326.2,529.4 L326.5,529.9 L326.8,530.4 L327.1,531.0 L327.5,531.5 L327.8,532.1 L328.4,532.1 L329.0,531.9 L329.6,531.6 L330.2,531.5 L330.8,531.3 L331.3,531.2 L331.8,531.2 L332.3,531.3 L332.8,531.4 L333.3,531.5 L333.7,531.8 L334.2,532.0 L334.6,532.4 L335.1,532.7 L335.6,533.1 L336.1,533.6 L336.6,534.0 L337.0,533.9 L337.4,533.6 L337.8,526.6 L337.3,526.2 L336.8,526.1 L336.3,526.5 L335.9,526.9 L335.6,527.2 L335.2,527.5 L334.9,527.7 L334.5,527.8 L334.2,527.8 L333.7,527.8 L333.3,527.6 L332.9,527.4 L332.5,527.1 L332.1,526.8 L331.8,526.4 L331.5,525.9 L331.2,525.5 L330.9,525.0 L330.6,524.6 L330.2,524.8 L329.7,525.1 L329.3,525.3 L328.9,525.4 L328.5,525.5 L328.2,525.6 L327.9,525.5 L327.6,525.3 L327.3,525.1 L327.0,524.7 L326.7,524.3 L326.4,523.7 L326.0,523.1 L325.6,522.4 L325.3,521.8 L325.1,521.2 L324.9,520.6 L324.2,520.6 L323.6,520.7 L322.9,520.7 L322.3,520.6 L321.6,520.6 L321.0,520.5 L320.4,520.3 L319.8,520.1 L319.3,519.8 L318.7,519.5 L318.1,519.1 L317.5,518.7 L316.9,518.2 L316.3,517.8 L315.8,517.3 L315.2,516.8 L314.7,516.3 L314.1,516.4 L313.4,516.7 L312.9,517.0 L312.3,517.2 L311.8,517.5 L311.1,517.6 L310.3,517.7 L309.6,517.8 L309.1,517.8 L308.7,517.7 L308.4,517.6 L308.1,517.4 L307.8,517.1 L307.5,516.7 L307.1,516.3 L306.8,515.9 L306.4,515.4 L305.9,515.4 L305.4,515.7 L304.8,515.9 L304.3,516.2 L303.8,516.3 L303.3,516.5 L302.7,516.5 L302.2,516.5 L301.8,516.5 L301.3,516.3 L300.9,516.1 L300.4,515.8 L300.0,515.5 L299.6,515.1 L299.3,514.6 L298.9,514.1 L298.5,513.6 L298.1,513.4 L297.5,513.7 L296.9,513.9 L296.4,514.1 L295.8,514.3 L295.3,514.4 L294.7,514.4 L294.2,514.4 L293.8,514.3 L293.3,514.2 L292.9,513.9 L292.4,513.6 L292.1,513.3 L291.7,512.9 L291.3,512.4 L291.0,511.9 L290.6,511.4 L290.3,511.0 L289.7,511.3 L289.1,511.5 L288.6,511.7 L288.0,511.8 L287.5,511.9 L287.0,511.9 L286.5,511.9 L286.0,511.8 L285.6,511.6 L285.1,511.3 L284.8,511.0 L284.4,510.6 L284.0,510.2 L283.7,509.7 L283.4,509.2 L283.1,508.7 L282.8,508.1 L282.2,508.3 L281.6,508.5 L281.0,508.6 L280.5,508.7 L279.9,508.8 L279.4,508.8 L278.9,508.7 L278.4,508.6 L277.9,508.4 L277.5,508.2 L277.1,507.8 L276.8,507.5 L276.4,507.0 L276.1,506.5 L275.8,506.0 L275.6,505.4 L275.3,504.9 L274.8,504.9 L274.2,505.0 L273.6,505.2 L273.0,505.2 L272.4,505.3 L271.9,505.3 L271.4,505.2 L270.9,505.1 L270.4,504.9 L270.0,504.6 L269.7,504.3 L269.3,503.9 L269.0,503.4 L268.7,502.9 L268.4,502.4 L268.2,501.8 L267.9,501.3 L267.5,501.1 L266.8,501.2 L266.2,501.3 L265.7,501.4 L265.1,501.4 L264.6,501.4 L264.1,501.3 L263.6,501.2 L263.1,501.0 L262.7,500.7 L262.4,500.4 L262.0,500.0 L261.7,499.5 L261.5,499.0 L261.2,498.5 L261.0,497.9 L260.8,497.3 L260.4,497.0 L259.7,497.1 L259.1,497.2 L258.5,497.2 L257.9,497.2 L257.4,497.2 L256.9,497.1 L256.4,496.9 L255.9,496.7 L255.5,496.4 L255.1,496.1 L254.8,495.7 L254.5,495.3 L254.2,494.8 L254.0,494.2 L253.8,493.7 L253.6,493.1 L253.3,492.6 L252.7,492.7 L252.1,492.8 L251.5,492.8 L250.9,492.8 L250.3,492.8 L249.8,492.7 L249.4,492.5 L248.9,492.3 L248.5,492.0 L248.2,491.7 L247.9,491.3 L247.6,490.8 L247.4,490.3 L247.2,489.8 L247.0,489.2 L246.8,488.6 L246.7,488.0 L246.0,488.1 L245.4,488.1 L244.8,488.1 L244.2,488.1 L243.7,488.0 L243.2,487.9 L242.7,487.7 L242.2,487.5 L241.8,487.2 L241.5,486.8 L241.2,486.4 L240.9,486.0 L240.7,485.4 L240.5,484.9 L240.3,484.3 L240.2,483.7 L240.0,483.1 L239.5,483.0 L238.9,483.0 L238.3,483.0 L237.7,482.9 L237.1,482.8 L236.6,482.7 L236.1,482.5 L235.7,482.3 L235.3,482.0 L234.9,481.6 L234.6,481.2 L234.4,480.8 L234.2,480.3 L234.0,479.7 L233.8,479.1 L233.7,478.5 L233.5,477.9 L233.1,477.6 L232.5,477.6 L231.9,477.6 L231.3,477.6 L230.7,477.5 L230.2,477.3 L229.7,477.1 L229.3,476.9 L228.9,476.6 L228.5,476.3 L228.2,475.9 L228.0,475.4 L227.7,474.9 L227.5,474.3 L227.4,473.7 L227.2,473.1 L227.1,472.5 L226.8,472.1 L226.1,472.1 L225.5,472.0 L224.9,472.0 L224.3,471.9 L223.7,471.7 L223.2,471.5 L222.7,471.3 L222.3,471.0 L221.9,470.7 L221.6,470.3 L221.3,469.9 L221.1,469.4 L220.9,468.9 L220.8,468.3 L220.6,467.7 L220.5,467.1 L220.3,466.6 L219.7,466.6 L219.1,466.6 L218.5,466.5 L217.9,466.4 L217.4,466.3 L216.9,466.1 L216.5,465.9 L216.1,465.6 L215.7,465.3 L215.4,464.9 L215.1,464.5 L214.9,464.0 L214.8,463.4 L214.6,462.9 L214.5,462.3 L214.4,461.7 L214.4,461.0 L213.7,461.0 L213.1,460.9 L212.5,460.9 L212.0,460.8 L211.4,460.6 L210.9,460.4 L210.5,460.2 L210.1,459.9 L209.7,459.5 L209.4,459.2 L209.2,458.7 L209.0,458.2 L208.8,457.7 L208.7,457.1 L208.6,456.5 L208.6,455.9 L208.5,455.3 L208.0,455.1 L207.3,455.0 L206.7,454.9 L206.1,454.7 L205.6,454.6 L205.1,454.4 L204.6,454.1 L204.2,453.9 L203.9,453.5 L203.6,453.2 L203.4,452.7 L203.2,452.3 L203.1,451.8 L203.0,451.2 L203.0,450.7 L203.0,450.1 L203.1,449.6 L202.8,449.3 L202.2,449.2 L201.7,449.1 L201.1,448.9 L200.7,448.7 L200.2,448.5 L199.8,448.2 L199.4,447.9 L199.2,447.5 L198.9,447.1 L198.8,446.6 L198.6,446.1 L198.6,445.5 L198.6,444.9 L198.6,444.3 L198.6,443.7 L198.7,443.0 L198.4,442.6 L197.8,442.4 L197.3,442.2 L196.7,441.9 L196.2,441.7 L195.7,441.4 L195.3,441.1 L194.9,440.7 L194.6,440.3 L194.4,439.9 L194.2,439.4 L194.0,438.9 L193.9,438.3 L193.9,437.8 L193.9,437.1 L193.9,436.5 L193.9,435.8 L193.8,435.2 L193.2,435.0 L192.6,434.8 L192.0,434.6 L191.4,434.3 L190.9,434.1 L190.5,433.8 L190.1,433.4 L189.7,433.1 L189.4,432.7 L189.2,432.2 L189.0,431.7 L188.9,431.2 L188.8,430.6 L188.8,430.0 L188.8,429.4 L188.8,428.8 L188.9,428.1Z" fill="#f0f0f0"/>
<path d="M224.6,269.1 L222.9,270.3 L221.2,271.5 L219.4,272.7 L217.5,273.7 L215.6,274.7 L213.7,275.5 L211.9,276.4 L210.1,277.2 L208.4,278.0 L206.8,278.9 L205.1,279.9 L203.5,280.9 L201.9,281.9 L200.2,283.0 L198.6,284.1 L197.1,285.2 L195.5,286.4 L194.0,287.6 L192.5,288.7 L191.0,290.0 L189.6,291.2 L188.2,292.5 L186.8,293.9 L185.5,295.2 L184.2,296.7 L182.9,298.1 L181.7,299.5 L180.6,301.0 L179.5,302.6 L178.4,304.2 L177.2,305.8 L176.1,307.5 L174.9,309.2 L173.6,310.8 L172.4,312.5 L171.1,314.0 L169.9,315.6 L168.8,317.1 L167.6,318.7 L166.6,320.2 L165.6,321.8 L164.7,323.5 L163.7,325.2 L162.8,326.9 L161.9,328.6 L161.1,330.3 L160.3,332.1 L159.5,333.8 L158.8,335.6 L158.2,337.3 L157.6,339.1 L157.1,340.9 L156.6,342.8 L156.2,344.6 L155.9,346.4 L155.6,348.3 L155.5,350.1 L155.3,352.0 L155.3,353.8 L155.4,355.6 L155.5,357.5 L155.8,359.3 L156.1,361.2 L156.4,363.1 L156.8,365.0 L157.2,366.9 L157.6,368.8 L158.1,370.5 L158.6,372.1 L159.3,373.7 L160.2,375.6 L161.1,377.5 L161.8,379.4 L162.6,381.2 L163.4,383.1 L164.1,384.9 L164.9,386.7 L165.7,388.5 L166.5,390.3 L167.3,392.0 L168.2,393.6 L169.1,395.1 L170.1,396.5 L171.3,397.9 L172.7,399.6 L174.0,401.7 L175.1,404.0 L175.7,406.1 L176.3,407.8 L177.0,409.4 L177.8,411.1 L178.7,412.8 L179.5,414.4 L180.4,415.8 L181.7,417.3 L182.9,419.1 L184.1,420.8 L185.3,422.9 L186.3,425.4 L186.7,427.8 L186.9,430.0 L188.9,428.1 L188.8,428.8 L188.8,429.4 L188.8,430.0 L188.8,430.6 L188.9,431.2 L189.0,431.7 L189.2,432.2 L189.4,432.7 L189.7,433.1 L190.1,433.4 L190.5,433.8 L190.9,434.1 L191.4,434.3 L192.0,434.6 L192.6,434.8 L193.2,435.0 L193.8,435.2 L193.9,435.8 L193.9,436.5 L193.9,437.1 L193.9,437.8 L193.9,438.3 L194.0,438.9 L194.2,439.4 L194.4,439.9 L194.6,440.3 L194.9,440.7 L195.3,441.1 L195.7,441.4 L196.2,441.7 L196.7,441.9 L197.3,442.2 L197.8,442.4 L198.4,442.6 L198.7,443.0 L198.6,443.7 L198.6,444.3 L198.6,444.9 L198.6,445.5 L198.6,446.1 L198.8,446.6 L198.9,447.1 L199.2,447.5 L199.4,447.9 L199.8,448.2 L200.2,448.5 L200.7,448.7 L201.1,448.9 L201.7,449.1 L202.2,449.2 L202.8,449.3 L203.1,449.6 L203.0,450.1 L203.0,450.7 L203.0,451.2 L203.1,451.8 L203.2,452.3 L203.4,452.7 L203.6,453.2 L203.9,453.5 L204.2,453.9 L204.6,454.1 L205.1,454.4 L205.6,454.6 L206.1,454.7 L206.7,454.9 L207.3,455.0 L208.0,455.1 L208.5,455.3 L208.6,455.9 L208.6,456.5 L208.7,457.1 L208.8,457.7 L209.0,458.2 L209.2,458.7 L209.4,459.2 L209.7,459.5 L210.1,459.9 L210.5,460.2 L210.9,460.4 L211.4,460.6 L212.0,460.8 L212.5,460.9 L213.1,460.9 L213.7,461.0 L214.4,461.0 L214.4,461.7 L214.5,462.3 L214.6,462.9 L214.8,463.4 L214.9,464.0 L215.1,464.5 L215.4,464.9 L215.7,465.3 L216.1,465.6 L216.5,465.9 L216.9,466.1 L217.4,466.3 L217.9,466.4 L218.5,466.5 L219.1,466.6 L219.7,466.6 L220.3,466.6 L220.5,467.1 L220.6,467.7 L220.8,468.3 L220.9,468.9 L221.1,469.4 L221.3,469.9 L221.6,470.3 L221.9,470.7 L222.3,471.0 L222.7,471.3 L223.2,471.5 L223.7,471.7 L224.3,471.9 L224.9,472.0 L225.5,472.0 L226.1,472.1 L226.8,472.1 L227.1,472.5 L227.2,473.1 L227.4,473.7 L227.5,474.3 L227.7,474.9 L228.0,475.4 L228.2,475.9 L228.5,476.3 L228.9,476.6 L229.3,476.9 L229.7,477.1 L230.2,477.3 L230.7,477.5 L231.3,477.6 L231.9,477.6 L232.5,477.6 L233.1,477.6 L233.5,477.9 L233.7,478.5 L233.8,479.1 L234.0,479.7 L234.2,480.3 L234.4,480.8 L234.6,481.2 L234.9,481.6 L235.3,482.0 L235.7,482.3 L236.1,482.5 L236.6,482.7 L237.1,482.8 L237.7,482.9 L238.3,483.0 L238.9,483.0 L239.5,483.0 L240.0,483.1 L240.2,483.7 L240.3,484.3 L240.5,484.9 L240.7,485.4 L240.9,486.0 L241.2,486.4 L241.5,486.8 L241.8,487.2 L242.2,487.5 L242.7,487.7 L243.2,487.9 L243.7,488.0 L244.2,488.1 L244.8,488.1 L245.4,488.1 L246.0,488.1 L246.7,488.0 L246.8,488.6 L247.0,489.2 L247.2,489.8 L247.4,490.3 L247.6,490.8 L247.9,491.3 L248.2,491.7 L248.5,492.0 L248.9,492.3 L249.4,492.5 L249.8,492.7 L250.3,492.8 L250.9,492.8 L251.5,492.8 L252.1,492.8 L252.7,492.7 L253.3,492.6 L253.6,493.1 L253.8,493.7 L254.0,494.2 L254.2,494.8 L254.5,495.3 L254.8,495.7 L255.1,496.1 L255.5,496.4 L255.9,496.7 L256.4,496.9 L256.9,497.1 L257.4,497.2 L257.9,497.2 L258.5,497.2 L259.1,497.2 L259.7,497.1 L260.4,497.0 L260.8,497.3 L261.0,497.9 L261.2,498.5 L261.5,499.0 L261.7,499.5 L262.0,500.0 L262.4,500.4 L262.7,500.7 L263.1,501.0 L263.6,501.2 L264.1,501.3 L264.6,501.4 L265.1,501.4 L265.7,501.4 L266.2,501.3 L266.8,501.2 L267.5,501.1 L267.9,501.3 L268.2,501.8 L268.4,502.4 L268.7,502.9 L269.0,503.4 L269.3,503.9 L269.7,504.3 L270.0,504.6 L270.4,504.9 L270.9,505.1 L271.4,505.2 L271.9,505.3 L272.4,505.3 L273.0,505.2 L273.6,505.2 L274.2,505.0 L274.8,504.9 L275.3,504.9 L275.6,505.4 L275.8,506.0 L276.1,506.5 L276.4,507.0 L276.8,507.5 L277.1,507.8 L277.5,508.2 L277.9,508.4 L278.4,508.6 L278.9,508.7 L279.4,508.8 L279.9,508.8 L280.5,508.7 L281.0,508.6 L281.6,508.5 L282.2,508.3 L282.8,508.1 L283.1,508.7 L283.4,509.2 L283.7,509.7 L284.0,510.2 L284.4,510.6 L284.8,511.0 L285.1,511.3 L285.6,511.6 L286.0,511.8 L286.5,511.9 L287.0,511.9 L287.5,511.9 L288.0,511.8 L288.6,511.7 L289.1,511.5 L289.7,511.3 L290.3,511.0 L290.6,511.4 L291.0,511.9 L291.3,512.4 L291.7,512.9 L292.1,513.3 L292.4,513.6 L292.9,513.9 L293.3,514.2 L293.8,514.3 L294.2,514.4 L294.7,514.4 L295.3,514.4 L295.8,514.3 L296.4,514.1 L296.9,513.9 L297.5,513.7 L298.1,513.4 L298.5,513.6 L298.9,514.1 L299.3,514.6 L299.6,515.1 L300.0,515.5 L300.4,515.8 L300.9,516.1 L301.3,516.3 L301.8,516.5 L302.2,516.5 L302.7,516.5 L303.3,516.5 L303.8,516.3 L304.3,516.2 L304.8,515.9 L305.4,515.7 L305.9,515.4 L306.4,515.4 L306.8,515.9 L307.1,516.3 L307.5,516.7 L307.8,517.1 L308.1,517.4 L308.4,517.6 L308.7,517.7 L309.1,517.8 L309.6,517.8 L310.3,517.7 L311.1,517.6 L311.8,517.5 L312.3,517.2 L312.9,517.0 L313.4,516.7 L314.1,516.4 L314.7,516.3 L315.2,516.8 L315.8,517.3 L316.3,517.8 L316.9,518.2 L317.5,518.7 L318.1,519.1 L318.7,519.5 L319.3,519.8 L319.8,520.1 L320.4,520.3 L321.0,520.5 L321.6,520.6 L322.3,520.6 L322.9,520.7 L323.6,520.7 L324.2,520.6 L324.9,520.6 L325.1,521.2 L325.3,521.8 L325.6,522.4 L326.0,523.1 L326.4,523.7 L326.7,524.3 L327.0,524.7 L327.3,525.1 L327.6,525.3 L327.9,525.5 L328.2,525.6 L328.5,525.5 L328.9,525.4 L329.3,525.3 L329.7,525.1 L330.2,524.8 L330.6,524.6 L330.9,525.0 L331.2,525.5 L331.5,525.9 L331.8,526.4 L332.1,526.8 L332.5,527.1 L332.9,527.4 L333.3,527.6 L333.7,527.8 L334.2,527.8 L334.5,527.8 L334.9,527.7 L335.2,527.5 L335.6,527.2 L335.9,526.9 L336.3,526.5 L336.8,526.1 L337.3,526.2 L337.8,526.6" fill="none" stroke="#c4c4c4" stroke-width="1"/>
<path d="M183.5,432.0 L183.7,432.4 L184.0,432.9 L184.3,433.3 L184.7,433.6 L185.0,434.0 L185.4,434.3 L185.8,434.7 L186.1,435.0 L186.5,435.4 L186.7,435.8 L187.0,436.3 L187.2,436.7 L187.3,437.3 L187.4,437.8 L187.3,438.5 L187.3,439.1 L187.2,439.8 L187.7,440.0 L188.3,440.2 L188.9,440.4 L189.4,440.7 L190.0,440.9 L190.4,441.2 L190.8,441.5 L191.2,441.9 L191.5,442.3 L191.7,442.8 L191.9,443.3 L192.0,443.8 L192.0,444.4 L192.0,444.9 L192.0,445.6 L191.9,446.2 L191.8,446.8 L192.2,447.2 L192.8,447.4 L193.4,447.6 L194.0,447.9 L194.5,448.1 L195.0,448.4 L195.4,448.7 L195.7,449.1 L196.0,449.5 L196.3,449.9 L196.5,450.4 L196.6,450.9 L196.7,451.5 L196.7,452.0 L196.7,452.7 L196.7,453.3 L196.7,454.0 L196.9,454.4 L197.6,454.6 L198.2,454.7 L198.8,454.9 L199.4,455.0 L199.9,455.2 L200.4,455.5 L200.8,455.8 L201.2,456.1 L201.5,456.5 L201.8,456.9 L202.0,457.4 L202.2,457.9 L202.3,458.4 L202.4,459.0 L202.5,459.7 L202.5,460.3 L202.7,460.8 L203.4,460.9 L204.0,461.0 L204.6,461.1 L205.2,461.2 L205.7,461.4 L206.2,461.6 L206.7,461.9 L207.1,462.2 L207.4,462.5 L207.7,462.9 L208.0,463.4 L208.2,463.9 L208.3,464.5 L208.4,465.1 L208.5,465.7 L208.6,466.3 L208.7,467.0 L209.3,467.0 L210.0,467.1 L210.6,467.1 L211.2,467.2 L211.8,467.4 L212.3,467.5 L212.8,467.8 L213.2,468.0 L213.5,468.4 L213.9,468.8 L214.1,469.2 L214.4,469.7 L214.6,470.2 L214.7,470.8 L214.8,471.4 L215.0,472.0 L215.1,472.7 L215.6,472.8 L216.3,472.9 L216.9,472.9 L217.5,472.9 L218.1,473.0 L218.6,473.2 L219.1,473.4 L219.6,473.6 L220.0,473.9 L220.3,474.3 L220.6,474.7 L220.9,475.1 L221.1,475.7 L221.3,476.2 L221.4,476.8 L221.5,477.5 L221.7,478.1 L222.1,478.3 L222.7,478.4 L223.4,478.4 L224.0,478.5 L224.6,478.5 L225.1,478.7 L225.6,478.9 L226.0,479.1 L226.5,479.4 L226.8,479.8 L227.1,480.2 L227.4,480.6 L227.6,481.2 L227.8,481.7 L227.9,482.3 L228.1,482.9 L228.2,483.6 L228.5,484.0 L229.2,484.0 L229.8,484.0 L230.4,484.0 L231.0,484.1 L231.5,484.2 L232.1,484.4 L232.5,484.6 L232.9,484.9 L233.3,485.2 L233.6,485.6 L233.9,486.0 L234.2,486.5 L234.4,487.1 L234.5,487.7 L234.7,488.3 L234.8,488.9 L235.1,489.4 L235.7,489.4 L236.4,489.4 L237.0,489.4 L237.6,489.5 L238.1,489.5 L238.7,489.7 L239.2,489.9 L239.6,490.1 L240.0,490.4 L240.3,490.8 L240.6,491.2 L240.9,491.7 L241.1,492.2 L241.3,492.8 L241.5,493.4 L241.7,494.0 L241.8,494.7 L242.5,494.6 L243.1,494.6 L243.8,494.6 L244.4,494.6 L244.9,494.6 L245.5,494.7 L246.0,494.9 L246.4,495.1 L246.8,495.4 L247.2,495.7 L247.6,496.1 L247.9,496.6 L248.1,497.1 L248.4,497.6 L248.6,498.2 L248.8,498.8 L249.0,499.4 L249.6,499.5 L250.2,499.4 L250.8,499.3 L251.4,499.3 L252.0,499.3 L252.6,499.4 L253.1,499.5 L253.6,499.6 L254.0,499.9 L254.4,500.2 L254.8,500.6 L255.1,501.0 L255.4,501.5 L255.7,502.0 L255.9,502.6 L256.1,503.2 L256.3,503.8 L256.8,504.0 L257.5,503.9 L258.1,503.8 L258.7,503.7 L259.3,503.7 L259.8,503.8 L260.4,503.8 L260.9,504.0 L261.3,504.2 L261.7,504.5 L262.1,504.8 L262.5,505.2 L262.8,505.7 L263.1,506.2 L263.3,506.7 L263.6,507.3 L263.8,507.9 L264.2,508.2 L264.9,508.1 L265.5,508.0 L266.1,507.9 L266.7,507.8 L267.3,507.8 L267.8,507.9 L268.3,508.0 L268.8,508.2 L269.2,508.4 L269.6,508.7 L270.0,509.1 L270.3,509.5 L270.7,510.0 L271.0,510.6 L271.2,511.1 L271.5,511.7 L271.9,512.1 L272.5,512.0 L273.1,511.8 L273.7,511.7 L274.3,511.6 L274.9,511.6 L275.4,511.6 L275.9,511.7 L276.4,511.8 L276.9,512.0 L277.3,512.3 L277.7,512.6 L278.1,513.0 L278.4,513.5 L278.7,514.0 L279.1,514.6 L279.4,515.1 L279.7,515.7 L280.3,515.5 L280.9,515.3 L281.5,515.2 L282.1,515.0 L282.7,515.0 L283.2,514.9 L283.7,515.0 L284.2,515.1 L284.7,515.2 L285.1,515.5 L285.6,515.8 L286.0,516.1 L286.3,516.6 L286.7,517.1 L287.1,517.6 L287.4,518.1 L287.8,518.7 L288.3,518.6 L288.9,518.3 L289.5,518.1 L290.1,518.0 L290.7,517.8 L291.2,517.7 L291.7,517.7 L292.2,517.8 L292.7,517.9 L293.2,518.1 L293.6,518.3 L294.1,518.7 L294.5,519.0 L294.9,519.5 L295.3,520.0 L295.6,520.5 L296.0,521.0 L296.5,521.1 L297.1,520.8 L297.7,520.5 L298.3,520.3 L298.8,520.2 L299.4,520.0 L299.9,520.0 L300.4,520.0 L300.9,520.1 L301.4,520.2 L301.8,520.4 L302.3,520.7 L302.7,521.1 L303.1,521.5 L303.6,521.9 L304.0,522.4 L304.4,522.9 L304.9,523.1 L305.4,522.8 L306.0,522.5 L306.6,522.2 L307.1,522.0 L307.6,521.8 L308.1,521.7 L308.6,521.6 L309.1,521.5 L309.6,521.5 L310.1,521.6 L310.6,521.8 L311.1,522.1 L311.6,522.5 L312.0,522.9 L312.5,523.4 L312.9,523.9 L313.3,524.2 L313.9,523.9 L314.4,523.6 L315.0,523.3 L315.5,523.1 L316.1,523.0 L316.6,523.0 L317.2,523.0 L317.7,523.2 L318.2,523.4 L318.6,523.7 L318.9,524.1 L319.3,524.6 L319.5,525.1 L319.8,525.6 L320.0,526.2 L320.2,526.8 L320.4,527.4 L321.0,527.4 L321.7,527.3 L322.3,527.2 L322.9,527.3 L323.5,527.3 L324.0,527.5 L324.5,527.7 L324.9,528.0 L325.3,528.3 L325.6,528.6 L325.9,529.0 L326.2,529.4 L326.5,529.9 L326.8,530.4 L327.1,531.0 L327.5,531.5 L327.8,532.1 L328.4,532.1 L329.0,531.9 L329.6,531.6 L330.2,531.5 L330.8,531.3 L331.3,531.2 L331.8,531.2 L332.3,531.3 L332.8,531.4 L333.3,531.5 L333.7,531.8 L334.2,532.0 L334.6,532.4 L335.1,532.7 L335.6,533.1 L336.1,533.6 L336.6,534.0 L337.0,533.9 L337.4,533.6" fill="none" stroke="#7e9286" stroke-width="0.6"/>
<path d="M241.8,207.0 L242.3,209.0 L242.6,211.2 L242.5,213.3 L242.3,215.3 L242.0,217.3 L241.7,219.3 L241.5,221.3 L241.2,223.3 L241.0,225.2 L240.8,227.2 L240.5,229.2 L240.2,231.3 L239.9,233.2 L239.5,235.2 L239.1,237.2 L238.7,239.1 L238.4,241.1 L238.1,243.1 L237.8,245.1 L237.4,247.1 L236.8,249.1 L236.1,251.0 L235.3,253.0 L234.5,254.8 L233.5,256.6 L232.6,258.4 L231.4,260.3 L229.9,261.8 L228.3,263.2 L226.7,264.4 L225.1,265.6 L223.5,266.8 L221.8,268.0 L220.2,269.1 L218.6,270.3" fill="none" stroke="#fff" stroke-width="1.4"/>
<path d="M242.9,206.7 L243.5,208.8 L243.8,211.1 L243.7,213.4 L243.4,215.5 L243.2,217.5 L242.9,219.5 L242.7,221.4 L242.4,223.4 L242.2,225.4 L242.0,227.4 L241.7,229.4 L241.4,231.4 L241.0,233.5 L240.7,235.4 L240.3,237.4 L239.9,239.4 L239.6,241.3 L239.3,243.2 L238.9,245.3 L238.5,247.4 L238.0,249.4 L237.2,251.5 L236.4,253.4 L235.5,255.3 L234.6,257.1 L233.6,259.0 L232.3,261.0 L230.7,262.7 L229.1,264.1 L227.4,265.4 L225.8,266.6 L224.2,267.8 L222.5,269.0 L220.9,270.1 L219.3,271.3" fill="none" stroke="#d3d6d4" stroke-width="0.9"/>
<path d="M163.0,216.0 C173.3,215.5 214.1,212.6 225.0,212.9 C235.9,213.2 227.9,215.2 228.5,218.0 C229.1,220.8 228.8,226.1 228.5,230.0 C228.2,233.9 228.1,237.8 226.7,241.7 C225.3,245.6 223.6,249.4 220.0,253.3 C216.4,257.2 210.0,261.4 205.0,265.0 C200.0,268.6 195.8,270.3 190.0,275.0 C184.2,279.7 176.3,285.8 170.0,293.0 C163.7,300.2 156.0,309.3 152.0,318.0 C148.0,326.7 147.2,335.7 146.0,345.0 C144.8,354.3 143.9,366.1 145.0,374.0 C146.1,381.9 149.4,386.8 152.5,392.5 C155.6,398.2 159.8,403.2 163.3,408.3 C166.8,413.4 170.5,418.9 173.3,423.3 C176.1,427.8 178.9,433.1 180.0,435.0" fill="none" stroke="#c3cfc8" stroke-width="0.9" stroke-dasharray="2 2.2"/>
<path d="M176.4,437.1 L176.4,437.1 L176.6,437.0 L176.8,436.8 L177.2,436.6 L177.6,436.3 L178.1,435.9 L178.5,435.6 L179.2,435.4 L179.9,435.4 L180.7,435.5 L181.4,435.8 L182.1,436.1 L182.7,436.6 L183.3,437.1 L183.7,437.8 L184.0,438.5 L184.2,439.2 L184.3,440.0 L184.2,440.7 L184.0,441.5 L183.7,442.1 L183.4,442.7 L183.0,443.2 L182.6,443.5 L182.2,443.8 L181.8,444.0 L181.5,444.0 L181.3,444.0 L181.2,443.9 L181.2,443.7 L181.3,443.5 L181.6,443.2 L181.9,442.9 L182.4,442.7 L183.0,442.4 L183.6,442.3 L184.3,442.3 L185.0,442.3 L185.8,442.5 L186.5,442.8 L187.1,443.2 L187.7,443.7 L188.1,444.3 L188.5,445.0 L188.7,445.8 L188.8,446.5 L188.8,447.3 L188.7,448.1 L188.5,448.8 L188.2,449.4 L187.8,450.0 L187.4,450.4 L187.0,450.8 L186.6,451.0 L186.2,451.1 L186.0,451.1 L185.8,451.0 L185.7,450.9 L185.8,450.7 L185.9,450.4 L186.2,450.2 L186.6,449.9 L187.2,449.7 L187.8,449.5 L188.4,449.4 L189.1,449.4 L189.9,449.5 L190.6,449.8 L191.3,450.1 L191.9,450.6 L192.5,451.2 L192.9,451.8 L193.3,452.6 L193.5,453.4 L193.6,454.2 L193.7,455.0 L193.6,455.8 L193.4,456.6 L193.2,457.2 L192.9,457.8 L192.5,458.3 L192.2,458.7 L191.8,458.9 L191.5,459.0 L191.2,458.9 L191.0,458.8 L190.9,458.6 L190.9,458.3 L191.1,458.0 L191.4,457.7 L191.8,457.4 L192.4,457.2 L193.0,457.1 L193.8,457.0 L194.5,457.0 L195.3,457.2 L196.1,457.4 L196.9,457.7 L197.6,458.1 L198.2,458.6 L198.8,459.2 L199.2,459.9 L199.5,460.6 L199.7,461.4 L199.8,462.2 L199.7,462.9 L199.6,463.6 L199.3,464.2 L199.0,464.8 L198.7,465.2 L198.3,465.6 L198.0,465.8 L197.7,465.9 L197.5,465.9 L197.4,465.8 L197.3,465.6 L197.4,465.3 L197.6,465.0 L197.9,464.7 L198.3,464.4 L198.9,464.1 L199.5,463.8 L200.2,463.7 L200.9,463.6 L201.7,463.7 L202.4,463.8 L203.2,464.1 L203.9,464.5 L204.5,465.1 L205.0,465.7 L205.4,466.3 L205.7,467.1 L205.9,467.8 L205.9,468.6 L205.9,469.4 L205.7,470.1 L205.5,470.7 L205.2,471.2 L204.9,471.7 L204.5,472.0 L204.2,472.2 L204.0,472.2 L203.8,472.2 L203.6,472.0 L203.6,471.8 L203.7,471.5 L203.9,471.2 L204.3,470.8 L204.7,470.5 L205.3,470.2 L205.9,470.0 L206.7,469.9 L207.4,469.8 L208.2,469.9 L209.0,470.1 L209.7,470.4 L210.4,470.8 L211.0,471.3 L211.5,471.9 L211.9,472.6 L212.2,473.3 L212.3,474.1 L212.4,474.9 L212.3,475.6 L212.2,476.3 L212.0,476.9 L211.7,477.4 L211.4,477.9 L211.1,478.1 L210.8,478.3 L210.6,478.4 L210.4,478.3 L210.3,478.1 L210.3,477.8 L210.4,477.5 L210.6,477.2 L211.0,476.8 L211.5,476.5 L212.1,476.2 L212.7,475.9 L213.5,475.8 L214.2,475.7 L215.0,475.8 L215.8,476.0 L216.5,476.3 L217.2,476.7 L217.8,477.2 L218.3,477.8 L218.7,478.5 L218.9,479.2 L219.0,479.9 L219.0,480.7 L219.0,481.4 L218.8,482.0 L218.5,482.6 L218.2,483.1 L217.9,483.5 L217.6,483.7 L217.3,483.9 L217.1,483.9 L217.0,483.8 L216.9,483.6 L217.0,483.3 L217.1,483.0 L217.4,482.6 L217.8,482.2 L218.3,481.9 L218.9,481.6 L219.6,481.4 L220.3,481.3 L221.1,481.2 L221.8,481.3 L222.6,481.6 L223.3,481.9 L223.9,482.4 L224.5,482.9 L224.9,483.6 L225.2,484.3 L225.5,485.0 L225.6,485.8 L225.6,486.6 L225.5,487.3 L225.3,487.9 L225.1,488.4 L224.8,488.9 L224.5,489.2 L224.2,489.5 L223.9,489.5 L223.7,489.5 L223.6,489.4 L223.5,489.2 L223.6,488.9 L223.8,488.5 L224.1,488.1 L224.6,487.8 L225.1,487.5 L225.7,487.2 L226.4,487.0 L227.2,486.9 L227.9,486.9 L228.7,487.0 L229.4,487.3 L230.1,487.6 L230.8,488.1 L231.3,488.7 L231.7,489.4 L232.0,490.1 L232.3,490.8 L232.4,491.6 L232.3,492.3 L232.2,493.0 L232.0,493.6 L231.8,494.2 L231.5,494.6 L231.2,494.9 L230.9,495.1 L230.7,495.1 L230.5,495.1 L230.4,494.9 L230.4,494.7 L230.5,494.3 L230.7,494.0 L231.1,493.6 L231.5,493.2 L232.1,492.9 L232.7,492.6 L233.4,492.4 L234.2,492.4 L235.0,492.4 L235.7,492.5 L236.5,492.8 L237.2,493.2 L237.8,493.7 L238.3,494.3 L238.7,494.9 L239.1,495.7 L239.3,496.4 L239.3,497.2 L239.3,497.9 L239.2,498.6 L239.0,499.2 L238.8,499.7 L238.5,500.1 L238.2,500.4 L238.0,500.5 L237.7,500.5 L237.6,500.4 L237.5,500.3 L237.5,500.0 L237.6,499.6 L237.9,499.2 L238.2,498.8 L238.7,498.5 L239.3,498.1 L240.0,497.9 L240.7,497.7 L241.5,497.6 L242.3,497.7 L243.1,497.8 L243.8,498.1 L244.5,498.5 L245.1,499.0 L245.7,499.6 L246.1,500.3 L246.4,501.0 L246.7,501.7 L246.8,502.5 L246.8,503.2 L246.7,503.8 L246.5,504.4 L246.3,504.9 L246.0,505.3 L245.7,505.5 L245.5,505.7 L245.3,505.7 L245.1,505.5 L245.1,505.3 L245.1,505.0 L245.3,504.6 L245.5,504.2 L245.9,503.8 L246.4,503.4 L247.0,503.1 L247.6,502.8 L248.4,502.6 L249.1,502.5 L249.9,502.5 L250.7,502.7 L251.4,502.9 L252.1,503.3 L252.7,503.8 L253.2,504.4 L253.7,505.1 L254.0,505.8 L254.2,506.5 L254.2,507.2 L254.2,507.9 L254.1,508.6 L253.9,509.1 L253.7,509.6 L253.4,509.9 L253.2,510.2 L252.9,510.3 L252.8,510.2 L252.6,510.1 L252.6,509.8 L252.7,509.5 L252.8,509.1 L253.1,508.7 L253.5,508.2 L254.0,507.8 L254.7,507.5 L255.3,507.2 L256.1,507.0 L256.9,507.0 L257.6,507.0 L258.4,507.2 L259.2,507.5 L259.8,507.9 L260.4,508.4 L261.0,509.0 L261.4,509.7 L261.7,510.4 L261.9,511.1 L262.0,511.9 L262.0,512.5 L261.9,513.2 L261.7,513.7 L261.5,514.1 L261.2,514.5 L261.0,514.6 L260.8,514.7 L260.6,514.6 L260.5,514.4 L260.4,514.2 L260.5,513.8 L260.7,513.4 L261.0,512.9 L261.5,512.5 L262.0,512.1 L262.6,511.7 L263.3,511.5 L264.0,511.3 L264.8,511.2 L265.6,511.2 L266.4,511.4 L267.1,511.7 L267.8,512.1 L268.4,512.6 L268.9,513.2 L269.3,513.9 L269.6,514.6 L269.8,515.4 L269.9,516.1 L269.9,516.7 L269.8,517.3 L269.6,517.8 L269.4,518.3 L269.2,518.5 L268.9,518.7 L268.7,518.7 L268.6,518.6 L268.5,518.4 L268.5,518.1 L268.6,517.7 L268.8,517.3 L269.1,516.8 L269.5,516.3 L270.1,515.9 L270.7,515.6 L271.4,515.3 L272.2,515.1 L273.0,515.0 L273.8,515.1 L274.5,515.3 L275.3,515.6 L275.9,516.0 L276.5,516.5 L277.1,517.1 L277.5,517.8 L277.8,518.5 L278.0,519.2 L278.0,519.9 L278.0,520.6 L277.9,521.1 L277.8,521.6 L277.6,522.0 L277.3,522.2 L277.1,522.4 L276.9,522.4 L276.8,522.2 L276.7,522.0 L276.7,521.6 L276.8,521.2 L277.1,520.8 L277.4,520.3 L277.9,519.8 L278.4,519.4 L279.0,519.0 L279.8,518.7 L280.5,518.6 L281.3,518.5 L282.1,518.5 L282.9,518.7 L283.6,519.0 L284.3,519.4 L284.9,520.0 L285.5,520.6 L285.9,521.2 L286.2,521.9 L286.4,522.6 L286.6,523.3 L286.6,523.9 L286.5,524.5 L286.4,525.0 L286.2,525.3 L285.9,525.5 L285.7,525.6 L285.5,525.6 L285.4,525.4 L285.3,525.1 L285.3,524.8 L285.5,524.3 L285.7,523.9 L286.0,523.3 L286.5,522.9 L287.0,522.4 L287.7,522.0 L288.4,521.7 L289.2,521.5 L290.0,521.4 L290.8,521.4 L291.5,521.6 L292.3,521.9 L293.0,522.3 L293.6,522.8 L294.1,523.4 L294.5,524.0 L294.8,524.7 L295.0,525.4 L295.2,526.0 L295.2,526.6 L295.1,527.2 L294.9,527.6 L294.8,527.9 L294.6,528.1 L294.4,528.2 L294.2,528.1 L294.1,527.9 L294.0,527.6 L294.0,527.2 L294.2,526.8 L294.4,526.2 L294.8,525.7 L295.2,525.2 L295.8,524.7 L296.4,524.3 L297.1,524.0 L297.9,523.8 L298.7,523.7 L299.5,523.8 L300.3,523.9 L301.0,524.2 L301.7,524.6 L302.3,525.1 L302.9,525.7 L303.3,526.3 L303.6,527.0 L303.9,527.7 L304.0,528.3 L304.0,528.9 L304.0,529.4 L303.8,529.8 L303.6,530.1 L303.4,530.3 L303.2,530.3 L303.0,530.2 L302.9,530.0 L302.9,529.6 L302.9,529.2 L303.0,528.7 L303.3,528.2 L303.6,527.6 L304.1,527.1 L304.7,526.6 L305.4,526.2 L306.1,525.9 L307.0,525.6 L308.0,525.5 L309.0,525.4 L309.6,525.4 L310.1,525.6 L310.6,525.9 L311.1,526.4 L311.5,527.0 L311.9,527.7 L312.1,528.3 L312.3,529.0 L312.3,529.6 L312.3,530.2 L312.2,530.6 L312.1,531.0 L311.9,531.2 L311.7,531.4 L311.5,531.4 L311.4,531.2 L311.3,530.9 L311.3,530.6 L311.4,530.1 L311.6,529.6 L311.8,529.1 L312.2,528.5 L312.7,528.0 L313.2,527.6 L313.9,527.2" fill="none" stroke="#c3cfc8" stroke-width="0.8"/>
<path d="M176.2,437.3 L177.4,438.9 L178.5,440.5 L179.7,442.1 L180.7,443.6 L181.8,445.1 L182.8,446.7 L183.8,448.4 L184.9,450.1 L186.0,451.8 L187.1,453.4 L188.2,455.2 L189.5,457.1 L191.0,459.1 L192.5,461.0 L194.1,462.7 L195.6,464.3 L197.0,465.7 L198.4,467.1 L199.8,468.6 L201.3,470.1 L202.8,471.6 L204.3,473.0 L205.8,474.5 L207.4,475.9 L209.0,477.3 L210.6,478.7 L212.2,480.1 L213.8,481.4 L215.3,482.6 L216.8,483.9 L218.2,485.1 L219.7,486.4 L221.3,487.8 L222.9,489.1 L224.4,490.4 L226.0,491.7 L227.6,493.0 L229.2,494.3 L230.8,495.6 L232.5,496.9 L234.1,498.1 L235.8,499.4 L237.5,500.7 L239.2,501.9 L241.0,503.1 L242.8,504.3 L244.6,505.5 L246.3,506.6 L248.1,507.7 L249.9,508.7 L251.6,509.8 L253.4,510.8 L255.2,511.9 L257.0,512.9 L258.8,513.9 L260.7,514.9 L262.6,515.9 L264.4,516.8 L266.3,517.8 L268.2,518.7 L270.1,519.6 L272.0,520.5 L273.9,521.3 L275.9,522.1 L277.8,522.9 L279.8,523.7 L281.8,524.5 L283.9,525.2 L285.9,525.9 L288.0,526.6 L290.0,527.2 L292.0,527.8 L294.0,528.3 L296.1,528.8 L298.1,529.4 L300.2,529.9 L302.3,530.3 L304.6,530.8 L307.4,531.1 L309.4,531.2 L310.5,531.4 L312.1,531.7 L314.0,532.1 L314.7,532.3" fill="none" stroke="#c3cfc8" stroke-width="0.8" stroke-dasharray="1.2 2.2"/>
<ellipse cx="182.5" cy="225" rx="10.5" ry="8.5" transform="rotate(-20 182.5 225)" fill="#fff"/>
<ellipse cx="213" cy="222" rx="10.5" ry="8.5" transform="rotate(-20 213 222)" fill="#fff"/>
<ellipse cx="173" cy="264.5" rx="9" ry="10" transform="rotate(20 173 264.5)" fill="#fff"/>
<path d="M347.8,400.4 C353.2,401.2 368.3,402.9 380.0,405.0 C391.7,407.1 405.0,410.7 417.8,413.0 C430.6,415.3 446.3,417.7 456.7,419.0 C467.1,420.3 470.6,420.8 480.0,420.8 C489.4,420.8 503.3,420.3 513.0,419.0 C522.7,417.7 530.2,415.3 538.0,413.0 C545.8,410.7 554.2,408.3 560.0,405.0 C565.8,401.7 570.0,396.7 573.0,393.0 C576.0,389.3 577.2,384.7 578.0,383.0  L580.5,386.0 C579.3,388.1 576.7,394.6 573.3,398.3 C569.9,402.0 565.8,405.1 560.0,408.3 C554.2,411.5 546.1,415.1 538.3,417.5 C530.5,419.9 523.0,421.4 513.3,422.5 C503.6,423.6 489.4,424.1 480.0,424.2 C470.6,424.3 467.1,424.1 456.7,423.0 C446.3,421.9 430.6,419.7 417.8,417.5 C405.0,415.3 392.1,412.0 380.0,410.0 C367.9,408.0 351.2,406.2 345.5,405.5Z" fill="#e9e9e9" stroke="#d2d2d2" stroke-width="0.7"/>
<g transform="rotate(0 392.9 446)"><ellipse cx="392.9" cy="446" rx="10" ry="9.5" fill="#fff"/><ellipse cx="392.7" cy="445.2" rx="6.0" ry="5.7" fill="none" stroke="#cbcbcb" stroke-width="1.1"/><ellipse cx="392.7" cy="445.2" rx="3.3" ry="3.1" fill="none" stroke="#cbcbcb" stroke-width="1.1"/></g>
<g transform="rotate(20 438.9 450)"><ellipse cx="438.9" cy="450" rx="8.5" ry="10" fill="#fff"/><ellipse cx="438.7" cy="449.2" rx="5.1" ry="6.0" fill="none" stroke="#cbcbcb" stroke-width="1.1"/><ellipse cx="438.7" cy="449.2" rx="2.8" ry="3.3" fill="none" stroke="#cbcbcb" stroke-width="1.1"/></g>
<g transform="rotate(15 472.8 449)"><ellipse cx="472.8" cy="449" rx="8" ry="9.5" fill="#fff"/><ellipse cx="472.6" cy="448.2" rx="4.8" ry="5.7" fill="none" stroke="#cbcbcb" stroke-width="1.1"/><ellipse cx="472.6" cy="448.2" rx="2.6" ry="3.1" fill="none" stroke="#cbcbcb" stroke-width="1.1"/></g>
<g transform="rotate(20 505.5 445.8)"><ellipse cx="505.5" cy="445.8" rx="8.3" ry="9.5" fill="#fff"/><ellipse cx="505.3" cy="445.0" rx="5.0" ry="5.7" fill="none" stroke="#cbcbcb" stroke-width="1.1"/><ellipse cx="505.3" cy="445.0" rx="2.7" ry="3.1" fill="none" stroke="#cbcbcb" stroke-width="1.1"/></g>
<g transform="rotate(30 534.2 438.3)"><ellipse cx="534.2" cy="438.3" rx="6.5" ry="8.5" fill="#fff"/><ellipse cx="534.0" cy="437.5" rx="3.9" ry="5.1" fill="none" stroke="#cbcbcb" stroke-width="1.1"/><ellipse cx="534.0" cy="437.5" rx="2.1" ry="2.8" fill="none" stroke="#cbcbcb" stroke-width="1.1"/></g>
<g transform="rotate(30 555 426.7)"><ellipse cx="555" cy="426.7" rx="3.5" ry="7" fill="#fff"/><ellipse cx="554.8" cy="425.9" rx="2.1" ry="4.2" fill="none" stroke="#cbcbcb" stroke-width="1.1"/><ellipse cx="554.8" cy="425.9" rx="1.2" ry="2.3" fill="none" stroke="#cbcbcb" stroke-width="1.1"/></g>
<g transform="rotate(0 365 491.6)"><ellipse cx="365" cy="491.6" rx="10" ry="6.5" fill="#fff"/><ellipse cx="364.8" cy="490.8" rx="6.0" ry="3.9" fill="none" stroke="#cbcbcb" stroke-width="1.1"/><ellipse cx="364.8" cy="490.8" rx="3.3" ry="2.1" fill="none" stroke="#cbcbcb" stroke-width="1.1"/></g>
<g transform="rotate(20 399.3 487.3)"><ellipse cx="399.3" cy="487.3" rx="9.5" ry="7" fill="#fff"/><ellipse cx="399.1" cy="486.5" rx="5.7" ry="4.2" fill="none" stroke="#cbcbcb" stroke-width="1.1"/><ellipse cx="399.1" cy="486.5" rx="3.1" ry="2.3" fill="none" stroke="#cbcbcb" stroke-width="1.1"/></g>
<g transform="rotate(-15 439.6 496.7)"><ellipse cx="439.6" cy="496.7" rx="9.5" ry="6.5" fill="#fff"/><ellipse cx="439.40000000000003" cy="495.9" rx="5.7" ry="3.9" fill="none" stroke="#cbcbcb" stroke-width="1.1"/><ellipse cx="439.40000000000003" cy="495.9" rx="3.1" ry="2.1" fill="none" stroke="#cbcbcb" stroke-width="1.1"/></g>
<g transform="rotate(30 472.8 490.8)"><ellipse cx="472.8" cy="490.8" rx="7" ry="8.5" fill="#fff"/><ellipse cx="472.6" cy="490.0" rx="4.2" ry="5.1" fill="none" stroke="#cbcbcb" stroke-width="1.1"/><ellipse cx="472.6" cy="490.0" rx="2.3" ry="2.8" fill="none" stroke="#cbcbcb" stroke-width="1.1"/></g>
<g transform="rotate(-20 393.5 554)"><ellipse cx="393.5" cy="554" rx="8" ry="7" fill="#fff"/><ellipse cx="393.3" cy="553.2" rx="4.8" ry="4.2" fill="none" stroke="#cbcbcb" stroke-width="1.1"/><ellipse cx="393.3" cy="553.2" rx="2.6" ry="2.3" fill="none" stroke="#cbcbcb" stroke-width="1.1"/></g>
<ellipse cx="442.8" cy="519.7" rx="8.5" ry="4.5" fill="#fff"/>
<ellipse cx="406.8" cy="531" rx="8.7" ry="2.6" transform="rotate(8 406.8 531)" fill="#fff"/>
<path d="M349.4,521.8 C351.3,522.1 358.2,524.2 361.1,523.7 C364.0,523.2 364.4,520.2 367.0,518.9 C369.6,517.6 374.8,517.1 376.7,516.0 C378.6,514.9 376.7,513.4 378.6,512.1 C380.5,510.8 384.1,509.3 388.3,508.2 C392.5,507.1 399.0,505.9 403.9,505.3 C408.8,504.7 413.9,504.3 417.5,504.3 C421.1,504.3 424.0,505.1 425.3,505.3" fill="none" stroke="#c9d4cd" stroke-width="0.9"/>
<path d="M403.9,505.3 C405.8,506.3 412.0,508.8 415.6,511.1 C419.2,513.4 422.7,517.1 425.3,518.9 C427.9,520.7 430.1,521.3 431.1,521.8" fill="none" stroke="#c9d4cd" stroke-width="0.9"/>
<path d="M363.0,525.7 C364.5,526.2 368.8,527.2 372.0,529.0 C375.2,530.8 381.7,534.9 382.5,536.4 C383.3,537.9 379.0,539.3 376.7,538.3 C374.4,537.3 371.2,532.7 368.9,530.6 C366.6,528.5 364.0,526.5 363.0,525.7" fill="none" stroke="#c9d4cd" stroke-width="0.9"/>
<path d="M378.6,522.8 C379.8,524.0 383.4,527.4 386.0,530.0 C388.6,532.6 392.8,536.9 394.2,538.3" fill="none" stroke="#c9d4cd" stroke-width="0.9"/>
<path d="M415.6,532.1 C418.2,532.2 425.9,532.6 431.1,532.5 C436.3,532.4 441.5,532.5 446.7,531.5 C451.9,530.5 459.6,527.5 462.2,526.7" fill="none" stroke="#c9d4cd" stroke-width="0.9"/>
<path d="M341.7,518.9 C342.4,520.8 344.4,526.1 346.0,530.0 C347.6,533.9 349.4,538.3 351.0,542.0 C352.6,545.7 354.6,550.3 355.3,552.0" fill="none" stroke="#c9d4cd" stroke-width="0.9"/>
<path d="M345.0,522.0 C346.2,523.0 349.2,525.0 352.0,528.0 C354.8,531.0 360.3,538.0 362.0,540.0" fill="none" stroke="#c9d4cd" stroke-width="0.9"/>
<path d="M177.0,141.3 C180.0,140.9 187.8,138.2 195.0,138.8 C202.2,139.4 213.3,141.9 220.0,145.0 C226.7,148.1 231.2,152.9 235.0,157.5 C238.8,162.1 241.0,169.4 242.5,172.5 C244.0,175.6 243.6,175.4 243.8,176.0" fill="none" stroke="#444" stroke-width="1.45" stroke-dasharray="3.8 3.2"/><path d="M239.5,174.5 L243.8,178 L248,173.8" fill="none" stroke="#444" stroke-width="1.7"/>
<path d="M342.0,120.0 C338.3,120.8 326.6,122.1 320.0,125.0 C313.4,127.9 306.9,132.9 302.5,137.5 C298.1,142.1 295.7,146.7 293.8,152.5 C291.9,158.3 291.7,168.6 291.3,172.5 C290.9,176.4 291.3,175.4 291.3,176.0" fill="none" stroke="#444" stroke-width="1.45" stroke-dasharray="3.8 3.2"/><path d="M287,174 L291.3,178 L295.5,174" fill="none" stroke="#444" stroke-width="1.7"/>
<path d="M55.6,329.4 C56.1,331.6 57.2,338.2 58.8,342.5 C60.4,346.8 62.3,351.0 65.0,355.0 C67.7,359.0 71.2,363.1 75.0,366.3 C78.8,369.5 83.3,372.6 87.5,374.4 C91.7,376.2 95.8,376.9 100.0,377.3 C104.2,377.7 110.0,377.0 112.5,376.9 C115.0,376.8 114.6,376.6 115.0,376.5" fill="none" stroke="#444" stroke-width="1.45" stroke-dasharray="3.8 3.2"/><path d="M112.3,372.5 L117.1,376.3 L113.1,380.6" fill="none" stroke="#444" stroke-width="1.7"/>
<path d="M555.0,254.4 C552.5,255.0 544.7,256.2 540.0,257.8 C535.3,259.4 530.8,261.5 526.7,263.9 C522.6,266.3 518.8,269.0 515.6,272.2 C512.5,275.4 509.6,279.8 507.8,283.3 C506.0,286.8 505.6,289.4 505.0,293.3 C504.4,297.2 504.4,303.8 504.4,306.7 C504.4,309.6 504.9,310.3 505.0,311.0" fill="none" stroke="#444" stroke-width="1.45" stroke-dasharray="3.8 3.2"/><path d="M500.6,309.4 L505,313.3 L509.4,308.7" fill="none" stroke="#444" stroke-width="1.7"/>
<path d="M568.2,558.9 C566.5,559.5 562.5,561.4 557.8,562.4 C553.0,563.4 545.3,564.7 539.7,564.7 C534.1,564.7 529.0,563.8 524.4,562.4 C519.8,561.0 515.4,558.8 511.9,556.1 C508.4,553.4 505.9,549.6 503.6,546.4 C501.3,543.2 499.1,538.8 498.0,536.7 C496.9,534.6 497.2,534.5 497.0,534.0" fill="none" stroke="#444" stroke-width="1.45" stroke-dasharray="3.8 3.2"/><path d="M493.9,536.7 L496,531.8 L502.2,533.9" fill="none" stroke="#444" stroke-width="1.7"/>
<path d="M154.8,577.5 C154.9,575.4 154.9,569.2 155.6,565.0 C156.3,560.8 157.2,556.5 158.8,552.5 C160.4,548.5 162.5,544.7 165.0,541.3 C167.5,537.9 170.7,534.4 173.8,531.9 C176.9,529.4 180.1,527.8 183.8,526.3 C187.6,524.8 192.8,523.7 196.3,523.1 C199.8,522.5 203.4,522.6 205.0,522.5 C206.6,522.4 205.8,522.5 206.0,522.5" fill="none" stroke="#444" stroke-width="1.45" stroke-dasharray="3.8 3.2"/><path d="M203.1,518.8 L208.1,522.5 L203.1,526.5" fill="none" stroke="#444" stroke-width="1.7"/>
<path d="M386.3,633.8 C384.8,633.8 381.1,634.1 377.5,633.5 C373.9,632.9 369.2,631.7 365.0,630.0 C360.8,628.3 356.2,625.6 352.5,623.1 C348.8,620.6 345.2,618.0 342.5,615.0 C339.8,612.0 337.8,608.3 336.3,605.0 C334.9,601.7 334.4,598.3 333.8,595.0 C333.2,591.7 332.7,587.3 332.5,585.0 C332.3,582.7 332.5,581.7 332.5,581.0" fill="none" stroke="#444" stroke-width="1.45" stroke-dasharray="3.8 3.2"/><path d="M328.1,583.1 L332.5,578.8 L337.3,583.5" fill="none" stroke="#444" stroke-width="1.7"/>
<text x="30.8" y="114.8" textLength="124.3" lengthAdjust="spacing">Large pocket</text>
<text x="30.8" y="140.1" textLength="110.2" lengthAdjust="spacing">opening for</text>
<text x="30.8" y="165.4" textLength="54.3" lengthAdjust="spacing">insert</text>
<text x="362.3" y="59.3" textLength="198.5" lengthAdjust="spacing">2 x double thickness</text>
<text x="362.3" y="85.4" textLength="204.2" lengthAdjust="spacing">bamboo boosters for</text>
<text x="362.3" y="111.4" textLength="197.5" lengthAdjust="spacing">inserting into pocket</text>
<text x="575.5" y="230.1" textLength="71.8" lengthAdjust="spacing">Staydry</text>
<text x="575.5" y="255.6" textLength="115.2" lengthAdjust="spacing">microfleece</text>
<text x="575.5" y="281" textLength="54.0" lengthAdjust="spacing">lining</text>
<text x="29.4" y="281.7" textLength="67.5" lengthAdjust="spacing">Quality</text>
<text x="29.4" y="307.7" textLength="85.9" lengthAdjust="spacing">stitching</text>
<text x="570.7" y="482.2" textLength="114.6" lengthAdjust="spacing">Sturdy, easy</text>
<text x="570.7" y="508.6" textLength="61.1" lengthAdjust="spacing">to use</text>
<text x="570.7" y="535.1" textLength="79.9" lengthAdjust="spacing">poppers</text>
<text x="32.3" y="614.5" textLength="132.0" lengthAdjust="spacing">Gentle elastic</text>
<text x="32.3" y="640.3" textLength="159.7" lengthAdjust="spacing">leg &amp; back seam</text>
<text x="407.5" y="636" textLength="122.8" lengthAdjust="spacing">Great choice</text>
<text x="407.5" y="661.7" textLength="97.8" lengthAdjust="spacing">of colours</text>
</svg>
</body></html>
